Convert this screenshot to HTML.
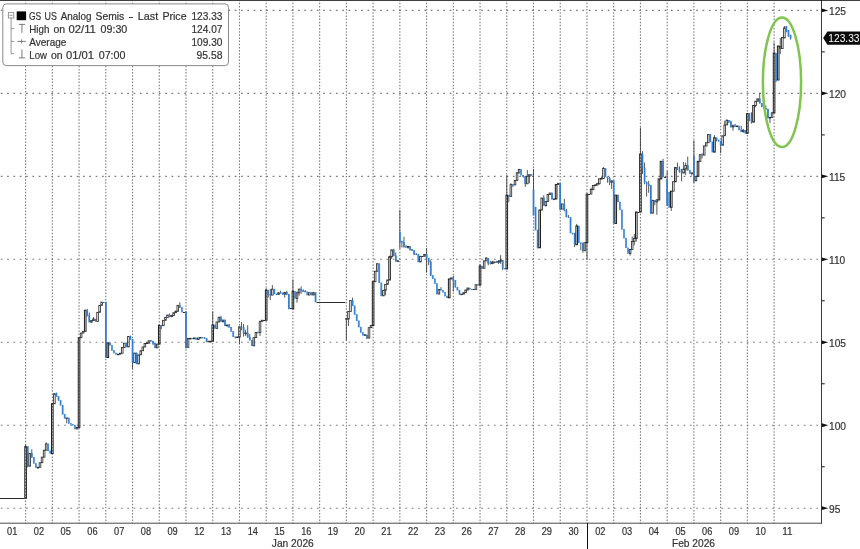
<!DOCTYPE html>
<html><head><meta charset="utf-8"><title>GS US Analog Semis</title>
<style>html,body{margin:0;padding:0;background:#fff;overflow:hidden}svg{display:block}text{font-family:"Liberation Sans",Arial,sans-serif;filter:grayscale(1)}</style></head><body>
<svg width="860" height="549" viewBox="0 0 860 549">
<rect width="860" height="549" fill="#fff"/>
<g stroke="#7a7a7a" stroke-width="1.1" fill="none">
<line x1="0" y1="10.40" x2="819.5" y2="10.40" stroke-dasharray="1.7 4.622" stroke-dashoffset="-0.81"/>
<line x1="0" y1="93.37" x2="819.5" y2="93.37" stroke-dasharray="1.7 4.622" stroke-dashoffset="-0.81"/>
<line x1="0" y1="176.34" x2="819.5" y2="176.34" stroke-dasharray="1.7 4.622" stroke-dashoffset="-0.81"/>
<line x1="0" y1="259.31" x2="819.5" y2="259.31" stroke-dasharray="1.7 4.622" stroke-dashoffset="-0.81"/>
<line x1="0" y1="342.28" x2="819.5" y2="342.28" stroke-dasharray="1.7 4.622" stroke-dashoffset="-0.81"/>
<line x1="0" y1="425.25" x2="819.5" y2="425.25" stroke-dasharray="1.7 4.622" stroke-dashoffset="-0.81"/>
<line x1="0" y1="508.22" x2="819.5" y2="508.22" stroke-dasharray="1.7 4.622" stroke-dashoffset="-0.81"/>
<line x1="25.60" y1="1" x2="25.60" y2="523.2" stroke-dasharray="1.5 1.65" stroke-dashoffset="-1.80"/>
<line x1="52.33" y1="1" x2="52.33" y2="523.2" stroke-dasharray="1.5 1.65" stroke-dashoffset="-1.80"/>
<line x1="79.06" y1="1" x2="79.06" y2="523.2" stroke-dasharray="1.5 1.65" stroke-dashoffset="-1.80"/>
<line x1="105.80" y1="1" x2="105.80" y2="523.2" stroke-dasharray="1.5 1.65" stroke-dashoffset="-1.80"/>
<line x1="132.53" y1="1" x2="132.53" y2="523.2" stroke-dasharray="1.5 1.65" stroke-dashoffset="-1.80"/>
<line x1="159.26" y1="1" x2="159.26" y2="523.2" stroke-dasharray="1.5 1.65" stroke-dashoffset="-1.80"/>
<line x1="185.99" y1="1" x2="185.99" y2="523.2" stroke-dasharray="1.5 1.65" stroke-dashoffset="-1.80"/>
<line x1="212.72" y1="1" x2="212.72" y2="523.2" stroke-dasharray="1.5 1.65" stroke-dashoffset="-1.80"/>
<line x1="239.46" y1="1" x2="239.46" y2="523.2" stroke-dasharray="1.5 1.65" stroke-dashoffset="-1.80"/>
<line x1="266.19" y1="1" x2="266.19" y2="523.2" stroke-dasharray="1.5 1.65" stroke-dashoffset="-1.80"/>
<line x1="292.92" y1="1" x2="292.92" y2="523.2" stroke-dasharray="1.5 1.65" stroke-dashoffset="-1.80"/>
<line x1="319.65" y1="1" x2="319.65" y2="523.2" stroke-dasharray="1.5 1.65" stroke-dashoffset="-1.80"/>
<line x1="346.38" y1="1" x2="346.38" y2="523.2" stroke-dasharray="1.5 1.65" stroke-dashoffset="-1.80"/>
<line x1="373.12" y1="1" x2="373.12" y2="523.2" stroke-dasharray="1.5 1.65" stroke-dashoffset="-1.80"/>
<line x1="399.85" y1="1" x2="399.85" y2="523.2" stroke-dasharray="1.5 1.65" stroke-dashoffset="-1.80"/>
<line x1="426.58" y1="1" x2="426.58" y2="523.2" stroke-dasharray="1.5 1.65" stroke-dashoffset="-1.80"/>
<line x1="453.31" y1="1" x2="453.31" y2="523.2" stroke-dasharray="1.5 1.65" stroke-dashoffset="-1.80"/>
<line x1="480.04" y1="1" x2="480.04" y2="523.2" stroke-dasharray="1.5 1.65" stroke-dashoffset="-1.80"/>
<line x1="506.78" y1="1" x2="506.78" y2="523.2" stroke-dasharray="1.5 1.65" stroke-dashoffset="-1.80"/>
<line x1="533.51" y1="1" x2="533.51" y2="523.2" stroke-dasharray="1.5 1.65" stroke-dashoffset="-1.80"/>
<line x1="560.24" y1="1" x2="560.24" y2="523.2" stroke-dasharray="1.5 1.65" stroke-dashoffset="-1.80"/>
<line x1="586.97" y1="1" x2="586.97" y2="523.2" stroke-dasharray="1.5 1.65" stroke-dashoffset="-1.80"/>
<line x1="613.70" y1="1" x2="613.70" y2="523.2" stroke-dasharray="1.5 1.65" stroke-dashoffset="-1.80"/>
<line x1="640.44" y1="1" x2="640.44" y2="523.2" stroke-dasharray="1.5 1.65" stroke-dashoffset="-1.80"/>
<line x1="667.17" y1="1" x2="667.17" y2="523.2" stroke-dasharray="1.5 1.65" stroke-dashoffset="-1.80"/>
<line x1="693.90" y1="1" x2="693.90" y2="523.2" stroke-dasharray="1.5 1.65" stroke-dashoffset="-1.80"/>
<line x1="720.63" y1="1" x2="720.63" y2="523.2" stroke-dasharray="1.5 1.65" stroke-dashoffset="-1.80"/>
<line x1="747.36" y1="1" x2="747.36" y2="523.2" stroke-dasharray="1.5 1.65" stroke-dashoffset="-1.80"/>
<line x1="774.10" y1="1" x2="774.10" y2="523.2" stroke-dasharray="1.5 1.65" stroke-dashoffset="-1.80"/>
</g>
<g id="candles" stroke-linecap="butt">
<line x1="25.60" y1="444.80" x2="25.60" y2="446.69" stroke="#2e2e2e" stroke-width="0.8"/>
<rect x="24.80" y="446.69" width="1.6" height="51.55" fill="none" stroke="#1c1c1c" stroke-width="1.0"/>
<line x1="27.66" y1="446.69" x2="27.66" y2="467.43" stroke="#2e2e2e" stroke-width="0.8"/>
<rect x="27.11" y="446.69" width="1.1" height="19.55" fill="#2f7fd6" stroke="#2f7fd6" stroke-width="0.55"/>
<rect x="28.91" y="453.56" width="1.6" height="12.68" fill="none" stroke="#2e2e2e" stroke-width="0.85"/>
<line x1="31.77" y1="449.20" x2="31.77" y2="457.40" stroke="#2e2e2e" stroke-width="0.8"/>
<rect x="31.22" y="453.56" width="1.1" height="3.84" fill="#2f7fd6" stroke="#2f7fd6" stroke-width="0.55"/>
<rect x="33.28" y="457.40" width="1.1" height="6.19" fill="#2f7fd6" stroke="#2f7fd6" stroke-width="0.55"/>
<rect x="35.33" y="463.59" width="1.1" height="4.11" fill="#2f7fd6" stroke="#2f7fd6" stroke-width="0.55"/>
<line x1="37.94" y1="467.70" x2="37.94" y2="468.69" stroke="#2e2e2e" stroke-width="0.8"/>
<rect x="37.14" y="467.24" width="1.6" height="0.60" fill="none" stroke="#2e2e2e" stroke-width="0.85"/>
<rect x="39.19" y="462.71" width="1.6" height="4.53" fill="none" stroke="#2e2e2e" stroke-width="0.85"/>
<rect x="41.25" y="457.15" width="1.6" height="5.55" fill="none" stroke="#2e2e2e" stroke-width="0.85"/>
<rect x="43.31" y="450.21" width="1.6" height="6.95" fill="none" stroke="#2e2e2e" stroke-width="0.85"/>
<line x1="46.16" y1="442.29" x2="46.16" y2="443.91" stroke="#2e2e2e" stroke-width="0.8"/>
<rect x="45.36" y="443.91" width="1.6" height="6.30" fill="none" stroke="#2e2e2e" stroke-width="0.85"/>
<rect x="47.67" y="443.91" width="1.1" height="6.91" fill="#2f7fd6" stroke="#2f7fd6" stroke-width="0.55"/>
<rect x="49.73" y="450.82" width="1.1" height="2.78" fill="#2f7fd6" stroke="#2f7fd6" stroke-width="0.55"/>
<rect x="51.53" y="403.69" width="1.6" height="49.91" fill="none" stroke="#1c1c1c" stroke-width="1.0"/>
<rect x="53.59" y="393.67" width="1.6" height="10.02" fill="none" stroke="#2e2e2e" stroke-width="0.85"/>
<line x1="56.44" y1="392.60" x2="56.44" y2="396.44" stroke="#2e2e2e" stroke-width="0.8"/>
<rect x="55.89" y="393.67" width="1.1" height="2.77" fill="#2f7fd6" stroke="#2f7fd6" stroke-width="0.55"/>
<rect x="57.95" y="396.44" width="1.1" height="4.10" fill="#2f7fd6" stroke="#2f7fd6" stroke-width="0.55"/>
<rect x="60.01" y="400.54" width="1.1" height="4.62" fill="#2f7fd6" stroke="#2f7fd6" stroke-width="0.55"/>
<rect x="62.06" y="405.17" width="1.1" height="9.18" fill="#2f7fd6" stroke="#2f7fd6" stroke-width="0.55"/>
<rect x="64.12" y="414.34" width="1.1" height="3.85" fill="#2f7fd6" stroke="#2f7fd6" stroke-width="0.55"/>
<line x1="66.73" y1="418.20" x2="66.73" y2="423.40" stroke="#2e2e2e" stroke-width="0.8"/>
<rect x="65.93" y="417.93" width="1.6" height="0.60" fill="none" stroke="#2e2e2e" stroke-width="0.85"/>
<rect x="68.23" y="417.93" width="1.1" height="5.62" fill="#2f7fd6" stroke="#2f7fd6" stroke-width="0.55"/>
<rect x="70.29" y="423.55" width="1.1" height="0.91" fill="#2f7fd6" stroke="#2f7fd6" stroke-width="0.55"/>
<rect x="72.35" y="424.46" width="1.1" height="0.71" fill="#2f7fd6" stroke="#2f7fd6" stroke-width="0.55"/>
<rect x="74.40" y="425.17" width="1.1" height="3.82" fill="#2f7fd6" stroke="#2f7fd6" stroke-width="0.55"/>
<rect x="76.21" y="427.37" width="1.6" height="1.62" fill="none" stroke="#2e2e2e" stroke-width="0.85"/>
<rect x="78.26" y="337.70" width="1.6" height="89.67" fill="none" stroke="#1c1c1c" stroke-width="1.0"/>
<rect x="80.32" y="333.07" width="1.6" height="4.63" fill="none" stroke="#2e2e2e" stroke-width="0.85"/>
<rect x="82.38" y="331.31" width="1.6" height="1.76" fill="none" stroke="#2e2e2e" stroke-width="0.85"/>
<rect x="84.43" y="310.26" width="1.6" height="21.05" fill="none" stroke="#1c1c1c" stroke-width="1.0"/>
<line x1="87.29" y1="308.86" x2="87.29" y2="316.40" stroke="#2e2e2e" stroke-width="0.8"/>
<rect x="86.74" y="310.26" width="1.1" height="4.92" fill="#2f7fd6" stroke="#2f7fd6" stroke-width="0.55"/>
<line x1="89.35" y1="312.63" x2="89.35" y2="322.14" stroke="#2e2e2e" stroke-width="0.8"/>
<rect x="88.80" y="315.18" width="1.1" height="6.96" fill="#2f7fd6" stroke="#2f7fd6" stroke-width="0.55"/>
<line x1="91.40" y1="322.14" x2="91.40" y2="322.69" stroke="#2e2e2e" stroke-width="0.8"/>
<rect x="90.60" y="320.58" width="1.6" height="1.56" fill="none" stroke="#2e2e2e" stroke-width="0.85"/>
<line x1="93.46" y1="317.03" x2="93.46" y2="319.01" stroke="#2e2e2e" stroke-width="0.8"/>
<rect x="92.66" y="319.01" width="1.6" height="1.57" fill="none" stroke="#2e2e2e" stroke-width="0.85"/>
<rect x="94.96" y="319.01" width="1.1" height="2.42" fill="#2f7fd6" stroke="#2f7fd6" stroke-width="0.55"/>
<rect x="96.77" y="312.33" width="1.6" height="9.10" fill="none" stroke="#2e2e2e" stroke-width="0.85"/>
<rect x="98.83" y="305.35" width="1.6" height="6.97" fill="none" stroke="#2e2e2e" stroke-width="0.85"/>
<rect x="100.88" y="302.14" width="1.6" height="3.21" fill="none" stroke="#2e2e2e" stroke-width="0.85"/>
<rect x="103.19" y="302.14" width="1.1" height="0.60" fill="#2f7fd6" stroke="#2f7fd6" stroke-width="0.55"/>
<line x1="105.80" y1="301.66" x2="105.80" y2="357.51" stroke="#2e2e2e" stroke-width="0.8"/>
<rect x="105.25" y="302.56" width="1.1" height="54.96" fill="#2f7fd6" stroke="#2f7fd6" stroke-width="0.55"/>
<rect x="107.05" y="342.91" width="1.6" height="14.60" fill="none" stroke="#1c1c1c" stroke-width="1.0"/>
<line x1="109.91" y1="342.52" x2="109.91" y2="345.15" stroke="#2e2e2e" stroke-width="0.8"/>
<rect x="109.36" y="342.91" width="1.1" height="2.24" fill="#2f7fd6" stroke="#2f7fd6" stroke-width="0.55"/>
<rect x="111.41" y="345.15" width="1.1" height="5.47" fill="#2f7fd6" stroke="#2f7fd6" stroke-width="0.55"/>
<rect x="113.47" y="350.62" width="1.1" height="2.35" fill="#2f7fd6" stroke="#2f7fd6" stroke-width="0.55"/>
<rect x="115.53" y="352.97" width="1.1" height="1.37" fill="#2f7fd6" stroke="#2f7fd6" stroke-width="0.55"/>
<line x1="118.13" y1="354.34" x2="118.13" y2="355.09" stroke="#2e2e2e" stroke-width="0.8"/>
<rect x="117.33" y="354.16" width="1.6" height="0.60" fill="none" stroke="#2e2e2e" stroke-width="0.85"/>
<rect x="119.39" y="353.20" width="1.6" height="0.95" fill="none" stroke="#2e2e2e" stroke-width="0.85"/>
<rect x="121.45" y="347.51" width="1.6" height="5.70" fill="none" stroke="#2e2e2e" stroke-width="0.85"/>
<rect x="123.50" y="343.18" width="1.6" height="4.33" fill="none" stroke="#2e2e2e" stroke-width="0.85"/>
<line x1="126.36" y1="342.52" x2="126.36" y2="346.92" stroke="#2e2e2e" stroke-width="0.8"/>
<rect x="125.81" y="343.18" width="1.1" height="3.74" fill="#2f7fd6" stroke="#2f7fd6" stroke-width="0.55"/>
<rect x="127.62" y="336.51" width="1.6" height="10.40" fill="none" stroke="#2e2e2e" stroke-width="0.85"/>
<line x1="130.47" y1="335.60" x2="130.47" y2="339.44" stroke="#2e2e2e" stroke-width="0.8"/>
<rect x="129.92" y="336.51" width="1.1" height="2.93" fill="#2f7fd6" stroke="#2f7fd6" stroke-width="0.55"/>
<line x1="132.53" y1="339.44" x2="132.53" y2="369.05" stroke="#2e2e2e" stroke-width="0.8"/>
<rect x="131.98" y="339.44" width="1.1" height="23.25" fill="#2f7fd6" stroke="#2f7fd6" stroke-width="0.55"/>
<rect x="133.78" y="353.05" width="1.6" height="9.65" fill="none" stroke="#2e2e2e" stroke-width="0.85"/>
<line x1="136.64" y1="352.58" x2="136.64" y2="363.89" stroke="#2e2e2e" stroke-width="0.8"/>
<rect x="136.09" y="353.05" width="1.1" height="10.84" fill="#2f7fd6" stroke="#2f7fd6" stroke-width="0.55"/>
<rect x="137.90" y="354.85" width="1.6" height="9.05" fill="none" stroke="#2e2e2e" stroke-width="0.85"/>
<rect x="139.95" y="350.73" width="1.6" height="4.11" fill="none" stroke="#2e2e2e" stroke-width="0.85"/>
<rect x="142.01" y="346.98" width="1.6" height="3.75" fill="none" stroke="#2e2e2e" stroke-width="0.85"/>
<rect x="144.07" y="343.45" width="1.6" height="3.53" fill="none" stroke="#2e2e2e" stroke-width="0.85"/>
<line x1="146.92" y1="341.89" x2="146.92" y2="343.00" stroke="#2e2e2e" stroke-width="0.8"/>
<rect x="146.12" y="343.00" width="1.6" height="0.60" fill="none" stroke="#2e2e2e" stroke-width="0.85"/>
<line x1="148.98" y1="343.00" x2="148.98" y2="343.77" stroke="#2e2e2e" stroke-width="0.8"/>
<rect x="148.18" y="340.71" width="1.6" height="2.29" fill="none" stroke="#2e2e2e" stroke-width="0.85"/>
<line x1="151.03" y1="340.00" x2="151.03" y2="341.06" stroke="#2e2e2e" stroke-width="0.8"/>
<rect x="150.48" y="340.71" width="1.1" height="0.60" fill="#2f7fd6" stroke="#2f7fd6" stroke-width="0.55"/>
<line x1="153.09" y1="341.06" x2="153.09" y2="345.03" stroke="#2e2e2e" stroke-width="0.8"/>
<rect x="152.54" y="341.06" width="1.1" height="2.33" fill="#2f7fd6" stroke="#2f7fd6" stroke-width="0.55"/>
<line x1="155.15" y1="342.52" x2="155.15" y2="348.18" stroke="#2e2e2e" stroke-width="0.8"/>
<rect x="154.60" y="343.39" width="1.1" height="4.44" fill="#2f7fd6" stroke="#2f7fd6" stroke-width="0.55"/>
<rect x="156.40" y="344.08" width="1.6" height="3.76" fill="none" stroke="#2e2e2e" stroke-width="0.85"/>
<line x1="159.26" y1="324.29" x2="159.26" y2="325.56" stroke="#2e2e2e" stroke-width="0.8"/>
<rect x="158.46" y="325.56" width="1.6" height="18.52" fill="none" stroke="#1c1c1c" stroke-width="1.0"/>
<line x1="161.32" y1="325.56" x2="161.32" y2="329.32" stroke="#2e2e2e" stroke-width="0.8"/>
<rect x="160.77" y="325.56" width="1.1" height="0.60" fill="#2f7fd6" stroke="#2f7fd6" stroke-width="0.55"/>
<rect x="162.57" y="320.34" width="1.6" height="5.28" fill="none" stroke="#2e2e2e" stroke-width="0.85"/>
<rect x="164.63" y="317.55" width="1.6" height="2.79" fill="none" stroke="#2e2e2e" stroke-width="0.85"/>
<rect x="166.69" y="315.08" width="1.6" height="2.47" fill="none" stroke="#2e2e2e" stroke-width="0.85"/>
<line x1="169.54" y1="313.60" x2="169.54" y2="317.37" stroke="#2e2e2e" stroke-width="0.8"/>
<rect x="168.99" y="315.08" width="1.1" height="1.60" fill="#2f7fd6" stroke="#2f7fd6" stroke-width="0.55"/>
<line x1="171.60" y1="314.86" x2="171.60" y2="315.50" stroke="#2e2e2e" stroke-width="0.8"/>
<rect x="170.80" y="315.50" width="1.6" height="1.18" fill="none" stroke="#2e2e2e" stroke-width="0.85"/>
<line x1="173.65" y1="315.50" x2="173.65" y2="316.12" stroke="#2e2e2e" stroke-width="0.8"/>
<rect x="172.85" y="312.71" width="1.6" height="2.79" fill="none" stroke="#2e2e2e" stroke-width="0.85"/>
<line x1="175.71" y1="310.46" x2="175.71" y2="311.33" stroke="#2e2e2e" stroke-width="0.8"/>
<rect x="174.91" y="311.33" width="1.6" height="1.38" fill="none" stroke="#2e2e2e" stroke-width="0.85"/>
<line x1="177.77" y1="311.33" x2="177.77" y2="311.72" stroke="#2e2e2e" stroke-width="0.8"/>
<rect x="176.97" y="305.32" width="1.6" height="6.01" fill="none" stroke="#2e2e2e" stroke-width="0.85"/>
<line x1="179.82" y1="302.29" x2="179.82" y2="307.71" stroke="#2e2e2e" stroke-width="0.8"/>
<rect x="179.27" y="305.32" width="1.1" height="2.39" fill="#2f7fd6" stroke="#2f7fd6" stroke-width="0.55"/>
<rect x="181.33" y="307.71" width="1.1" height="4.34" fill="#2f7fd6" stroke="#2f7fd6" stroke-width="0.55"/>
<line x1="185.99" y1="311.72" x2="185.99" y2="348.52" stroke="#2e2e2e" stroke-width="0.8"/>
<rect x="185.44" y="311.72" width="1.1" height="35.67" fill="#2f7fd6" stroke="#2f7fd6" stroke-width="0.55"/>
<rect x="187.25" y="338.38" width="1.6" height="9.01" fill="none" stroke="#2e2e2e" stroke-width="0.85"/>
<line x1="190.10" y1="337.83" x2="190.10" y2="338.37" stroke="#2e2e2e" stroke-width="0.8"/>
<rect x="189.30" y="338.37" width="1.6" height="0.60" fill="none" stroke="#2e2e2e" stroke-width="0.85"/>
<line x1="192.16" y1="338.37" x2="192.16" y2="339.09" stroke="#2e2e2e" stroke-width="0.8"/>
<rect x="191.61" y="338.37" width="1.1" height="0.60" fill="#2f7fd6" stroke="#2f7fd6" stroke-width="0.55"/>
<rect x="193.42" y="337.95" width="1.6" height="0.83" fill="none" stroke="#2e2e2e" stroke-width="0.85"/>
<rect x="195.72" y="337.95" width="1.1" height="1.54" fill="#2f7fd6" stroke="#2f7fd6" stroke-width="0.55"/>
<rect x="197.53" y="337.96" width="1.6" height="1.53" fill="none" stroke="#2e2e2e" stroke-width="0.85"/>
<rect x="199.59" y="337.46" width="1.6" height="0.60" fill="none" stroke="#2e2e2e" stroke-width="0.85"/>
<rect x="201.89" y="337.46" width="1.1" height="0.60" fill="#2f7fd6" stroke="#2f7fd6" stroke-width="0.55"/>
<line x1="204.50" y1="337.20" x2="204.50" y2="338.48" stroke="#2e2e2e" stroke-width="0.8"/>
<rect x="203.95" y="337.76" width="1.1" height="0.72" fill="#2f7fd6" stroke="#2f7fd6" stroke-width="0.55"/>
<line x1="206.56" y1="338.48" x2="206.56" y2="342.23" stroke="#2e2e2e" stroke-width="0.8"/>
<rect x="206.01" y="338.48" width="1.1" height="3.24" fill="#2f7fd6" stroke="#2f7fd6" stroke-width="0.55"/>
<rect x="207.81" y="341.22" width="1.6" height="0.60" fill="none" stroke="#2e2e2e" stroke-width="0.85"/>
<line x1="210.67" y1="341.22" x2="210.67" y2="341.60" stroke="#2e2e2e" stroke-width="0.8"/>
<rect x="209.87" y="341.20" width="1.6" height="0.60" fill="none" stroke="#2e2e2e" stroke-width="0.85"/>
<line x1="212.72" y1="311.43" x2="212.72" y2="324.93" stroke="#2e2e2e" stroke-width="0.8"/>
<rect x="211.92" y="324.93" width="1.6" height="16.27" fill="none" stroke="#1c1c1c" stroke-width="1.0"/>
<rect x="214.23" y="324.93" width="1.1" height="3.48" fill="#2f7fd6" stroke="#2f7fd6" stroke-width="0.55"/>
<rect x="216.04" y="321.96" width="1.6" height="6.44" fill="none" stroke="#2e2e2e" stroke-width="0.85"/>
<rect x="218.09" y="317.19" width="1.6" height="4.77" fill="none" stroke="#2e2e2e" stroke-width="0.85"/>
<line x1="220.95" y1="315.83" x2="220.95" y2="321.47" stroke="#2e2e2e" stroke-width="0.8"/>
<rect x="220.40" y="317.19" width="1.1" height="4.28" fill="#2f7fd6" stroke="#2f7fd6" stroke-width="0.55"/>
<line x1="223.01" y1="321.47" x2="223.01" y2="322.75" stroke="#2e2e2e" stroke-width="0.8"/>
<rect x="222.21" y="320.06" width="1.6" height="1.40" fill="none" stroke="#2e2e2e" stroke-width="0.85"/>
<line x1="225.06" y1="319.60" x2="225.06" y2="325.79" stroke="#2e2e2e" stroke-width="0.8"/>
<rect x="224.51" y="320.06" width="1.1" height="5.73" fill="#2f7fd6" stroke="#2f7fd6" stroke-width="0.55"/>
<line x1="227.12" y1="325.79" x2="227.12" y2="326.52" stroke="#2e2e2e" stroke-width="0.8"/>
<rect x="226.32" y="324.99" width="1.6" height="0.80" fill="none" stroke="#2e2e2e" stroke-width="0.85"/>
<line x1="229.17" y1="324.00" x2="229.17" y2="327.35" stroke="#2e2e2e" stroke-width="0.8"/>
<rect x="228.62" y="324.99" width="1.1" height="2.37" fill="#2f7fd6" stroke="#2f7fd6" stroke-width="0.55"/>
<rect x="230.68" y="327.35" width="1.1" height="4.05" fill="#2f7fd6" stroke="#2f7fd6" stroke-width="0.55"/>
<rect x="232.74" y="331.41" width="1.1" height="5.38" fill="#2f7fd6" stroke="#2f7fd6" stroke-width="0.55"/>
<line x1="235.34" y1="336.79" x2="235.34" y2="338.46" stroke="#2e2e2e" stroke-width="0.8"/>
<rect x="234.79" y="336.79" width="1.1" height="0.62" fill="#2f7fd6" stroke="#2f7fd6" stroke-width="0.55"/>
<line x1="237.40" y1="336.58" x2="237.40" y2="337.05" stroke="#2e2e2e" stroke-width="0.8"/>
<rect x="236.60" y="337.05" width="1.6" height="0.60" fill="none" stroke="#2e2e2e" stroke-width="0.85"/>
<line x1="239.46" y1="337.05" x2="239.46" y2="344.12" stroke="#2e2e2e" stroke-width="0.8"/>
<rect x="238.66" y="326.75" width="1.6" height="10.30" fill="none" stroke="#2e2e2e" stroke-width="0.85"/>
<line x1="241.51" y1="322.12" x2="241.51" y2="330.29" stroke="#2e2e2e" stroke-width="0.8"/>
<rect x="240.96" y="326.75" width="1.1" height="0.60" fill="#2f7fd6" stroke="#2f7fd6" stroke-width="0.55"/>
<line x1="243.57" y1="324.00" x2="243.57" y2="336.58" stroke="#2e2e2e" stroke-width="0.8"/>
<rect x="243.02" y="327.21" width="1.1" height="6.02" fill="#2f7fd6" stroke="#2f7fd6" stroke-width="0.55"/>
<line x1="245.62" y1="329.66" x2="245.62" y2="333.06" stroke="#2e2e2e" stroke-width="0.8"/>
<line x1="245.62" y1="333.23" x2="245.62" y2="335.95" stroke="#2e2e2e" stroke-width="0.8"/>
<rect x="244.82" y="333.06" width="1.6" height="0.60" fill="none" stroke="#2e2e2e" stroke-width="0.85"/>
<line x1="247.68" y1="325.26" x2="247.68" y2="337.46" stroke="#2e2e2e" stroke-width="0.8"/>
<rect x="247.13" y="333.06" width="1.1" height="4.39" fill="#2f7fd6" stroke="#2f7fd6" stroke-width="0.55"/>
<line x1="249.74" y1="334.06" x2="249.74" y2="340.14" stroke="#2e2e2e" stroke-width="0.8"/>
<rect x="249.19" y="337.46" width="1.1" height="2.68" fill="#2f7fd6" stroke="#2f7fd6" stroke-width="0.55"/>
<rect x="251.24" y="340.14" width="1.1" height="5.66" fill="#2f7fd6" stroke="#2f7fd6" stroke-width="0.55"/>
<rect x="253.05" y="337.61" width="1.6" height="8.19" fill="none" stroke="#2e2e2e" stroke-width="0.85"/>
<rect x="255.11" y="332.51" width="1.6" height="5.09" fill="none" stroke="#2e2e2e" stroke-width="0.85"/>
<line x1="257.96" y1="331.55" x2="257.96" y2="332.51" stroke="#2e2e2e" stroke-width="0.8"/>
<rect x="257.41" y="332.51" width="1.1" height="0.60" fill="#2f7fd6" stroke="#2f7fd6" stroke-width="0.55"/>
<line x1="260.02" y1="332.51" x2="260.02" y2="335.95" stroke="#2e2e2e" stroke-width="0.8"/>
<rect x="259.22" y="321.33" width="1.6" height="11.18" fill="none" stroke="#2e2e2e" stroke-width="0.85"/>
<rect x="261.28" y="320.23" width="1.6" height="1.10" fill="none" stroke="#2e2e2e" stroke-width="0.85"/>
<line x1="266.19" y1="288.20" x2="266.19" y2="290.14" stroke="#2e2e2e" stroke-width="0.8"/>
<rect x="265.39" y="290.14" width="1.6" height="30.09" fill="none" stroke="#1c1c1c" stroke-width="1.0"/>
<line x1="268.24" y1="290.14" x2="268.24" y2="297.63" stroke="#2e2e2e" stroke-width="0.8"/>
<rect x="267.69" y="290.14" width="1.1" height="4.19" fill="#2f7fd6" stroke="#2f7fd6" stroke-width="0.55"/>
<line x1="270.30" y1="288.83" x2="270.30" y2="300.14" stroke="#2e2e2e" stroke-width="0.8"/>
<rect x="269.75" y="294.33" width="1.1" height="0.77" fill="#2f7fd6" stroke="#2f7fd6" stroke-width="0.55"/>
<line x1="272.36" y1="285.06" x2="272.36" y2="289.19" stroke="#2e2e2e" stroke-width="0.8"/>
<rect x="271.56" y="289.19" width="1.6" height="5.91" fill="none" stroke="#2e2e2e" stroke-width="0.85"/>
<rect x="273.86" y="289.19" width="1.1" height="4.73" fill="#2f7fd6" stroke="#2f7fd6" stroke-width="0.55"/>
<line x1="276.47" y1="293.91" x2="276.47" y2="295.12" stroke="#2e2e2e" stroke-width="0.8"/>
<rect x="275.92" y="293.91" width="1.1" height="0.63" fill="#2f7fd6" stroke="#2f7fd6" stroke-width="0.55"/>
<rect x="277.73" y="292.70" width="1.6" height="1.84" fill="none" stroke="#2e2e2e" stroke-width="0.85"/>
<line x1="280.58" y1="290.72" x2="280.58" y2="293.31" stroke="#2e2e2e" stroke-width="0.8"/>
<rect x="280.03" y="292.70" width="1.1" height="0.61" fill="#2f7fd6" stroke="#2f7fd6" stroke-width="0.55"/>
<line x1="282.64" y1="292.60" x2="282.64" y2="294.49" stroke="#2e2e2e" stroke-width="0.8"/>
<rect x="282.09" y="293.31" width="1.1" height="0.92" fill="#2f7fd6" stroke="#2f7fd6" stroke-width="0.55"/>
<line x1="284.69" y1="294.23" x2="284.69" y2="297.63" stroke="#2e2e2e" stroke-width="0.8"/>
<rect x="283.89" y="292.52" width="1.6" height="1.71" fill="none" stroke="#2e2e2e" stroke-width="0.85"/>
<line x1="286.75" y1="290.72" x2="286.75" y2="295.12" stroke="#2e2e2e" stroke-width="0.8"/>
<rect x="286.20" y="292.52" width="1.1" height="2.06" fill="#2f7fd6" stroke="#2f7fd6" stroke-width="0.55"/>
<line x1="288.81" y1="293.86" x2="288.81" y2="308.95" stroke="#2e2e2e" stroke-width="0.8"/>
<rect x="288.26" y="294.58" width="1.1" height="14.36" fill="#2f7fd6" stroke="#2f7fd6" stroke-width="0.55"/>
<line x1="292.92" y1="279.40" x2="292.92" y2="291.34" stroke="#2e2e2e" stroke-width="0.8"/>
<rect x="292.12" y="291.34" width="1.6" height="17.60" fill="none" stroke="#1c1c1c" stroke-width="1.0"/>
<rect x="294.43" y="291.34" width="1.1" height="7.22" fill="#2f7fd6" stroke="#2f7fd6" stroke-width="0.55"/>
<line x1="297.03" y1="291.34" x2="297.03" y2="292.85" stroke="#2e2e2e" stroke-width="0.8"/>
<line x1="297.03" y1="298.56" x2="297.03" y2="302.66" stroke="#2e2e2e" stroke-width="0.8"/>
<rect x="296.23" y="292.85" width="1.6" height="5.71" fill="none" stroke="#2e2e2e" stroke-width="0.85"/>
<line x1="299.09" y1="292.85" x2="299.09" y2="295.74" stroke="#2e2e2e" stroke-width="0.8"/>
<rect x="298.29" y="289.06" width="1.6" height="3.79" fill="none" stroke="#2e2e2e" stroke-width="0.85"/>
<line x1="301.15" y1="286.32" x2="301.15" y2="293.86" stroke="#2e2e2e" stroke-width="0.8"/>
<rect x="300.60" y="289.06" width="1.1" height="1.52" fill="#2f7fd6" stroke="#2f7fd6" stroke-width="0.55"/>
<line x1="303.20" y1="289.46" x2="303.20" y2="291.97" stroke="#2e2e2e" stroke-width="0.8"/>
<rect x="302.65" y="290.58" width="1.1" height="0.79" fill="#2f7fd6" stroke="#2f7fd6" stroke-width="0.55"/>
<line x1="305.26" y1="290.09" x2="305.26" y2="291.80" stroke="#2e2e2e" stroke-width="0.8"/>
<rect x="304.71" y="291.37" width="1.1" height="0.60" fill="#2f7fd6" stroke="#2f7fd6" stroke-width="0.55"/>
<rect x="306.76" y="291.80" width="1.1" height="3.23" fill="#2f7fd6" stroke="#2f7fd6" stroke-width="0.55"/>
<rect x="308.57" y="292.72" width="1.6" height="2.30" fill="none" stroke="#2e2e2e" stroke-width="0.85"/>
<rect x="310.88" y="292.72" width="1.1" height="2.28" fill="#2f7fd6" stroke="#2f7fd6" stroke-width="0.55"/>
<line x1="313.48" y1="291.97" x2="313.48" y2="292.67" stroke="#2e2e2e" stroke-width="0.8"/>
<rect x="312.68" y="292.67" width="1.6" height="2.33" fill="none" stroke="#2e2e2e" stroke-width="0.85"/>
<rect x="314.99" y="292.67" width="1.1" height="9.36" fill="#2f7fd6" stroke="#2f7fd6" stroke-width="0.55"/>
<line x1="346.38" y1="319.00" x2="346.38" y2="340.40" stroke="#2e2e2e" stroke-width="0.8"/>
<rect x="345.58" y="318.60" width="1.6" height="0.60" fill="none" stroke="#2e2e2e" stroke-width="0.85"/>
<line x1="348.44" y1="319.00" x2="348.44" y2="326.00" stroke="#2e2e2e" stroke-width="0.8"/>
<rect x="347.64" y="311.50" width="1.6" height="7.50" fill="none" stroke="#2e2e2e" stroke-width="0.85"/>
<rect x="349.70" y="300.50" width="1.6" height="10.96" fill="none" stroke="#2e2e2e" stroke-width="0.85"/>
<line x1="352.55" y1="297.63" x2="352.55" y2="305.82" stroke="#2e2e2e" stroke-width="0.8"/>
<rect x="352.00" y="300.50" width="1.1" height="5.31" fill="#2f7fd6" stroke="#2f7fd6" stroke-width="0.55"/>
<rect x="354.06" y="305.82" width="1.1" height="8.85" fill="#2f7fd6" stroke="#2f7fd6" stroke-width="0.55"/>
<rect x="356.12" y="314.67" width="1.1" height="6.17" fill="#2f7fd6" stroke="#2f7fd6" stroke-width="0.55"/>
<rect x="358.17" y="320.83" width="1.1" height="6.24" fill="#2f7fd6" stroke="#2f7fd6" stroke-width="0.55"/>
<rect x="360.23" y="327.08" width="1.1" height="5.58" fill="#2f7fd6" stroke="#2f7fd6" stroke-width="0.55"/>
<rect x="362.28" y="332.66" width="1.1" height="2.49" fill="#2f7fd6" stroke="#2f7fd6" stroke-width="0.55"/>
<line x1="364.89" y1="334.09" x2="364.89" y2="334.92" stroke="#2e2e2e" stroke-width="0.8"/>
<rect x="364.09" y="334.92" width="1.6" height="0.60" fill="none" stroke="#2e2e2e" stroke-width="0.85"/>
<line x1="366.95" y1="334.92" x2="366.95" y2="339.12" stroke="#2e2e2e" stroke-width="0.8"/>
<rect x="366.40" y="334.92" width="1.1" height="3.18" fill="#2f7fd6" stroke="#2f7fd6" stroke-width="0.55"/>
<rect x="368.20" y="327.64" width="1.6" height="10.46" fill="none" stroke="#2e2e2e" stroke-width="0.85"/>
<rect x="370.26" y="325.53" width="1.6" height="2.11" fill="none" stroke="#2e2e2e" stroke-width="0.85"/>
<rect x="372.32" y="281.64" width="1.6" height="43.90" fill="none" stroke="#1c1c1c" stroke-width="1.0"/>
<rect x="374.37" y="271.28" width="1.6" height="10.36" fill="none" stroke="#2e2e2e" stroke-width="0.85"/>
<line x1="377.23" y1="263.26" x2="377.23" y2="263.75" stroke="#2e2e2e" stroke-width="0.8"/>
<rect x="376.43" y="263.75" width="1.6" height="7.52" fill="none" stroke="#2e2e2e" stroke-width="0.85"/>
<rect x="378.73" y="263.75" width="1.1" height="19.09" fill="#2f7fd6" stroke="#2f7fd6" stroke-width="0.55"/>
<rect x="380.79" y="282.85" width="1.1" height="13.00" fill="#2f7fd6" stroke="#2f7fd6" stroke-width="0.55"/>
<rect x="382.60" y="290.29" width="1.6" height="5.56" fill="none" stroke="#2e2e2e" stroke-width="0.85"/>
<line x1="385.45" y1="290.29" x2="385.45" y2="295.32" stroke="#2e2e2e" stroke-width="0.8"/>
<rect x="384.65" y="284.35" width="1.6" height="5.94" fill="none" stroke="#2e2e2e" stroke-width="0.85"/>
<rect x="386.71" y="279.97" width="1.6" height="4.38" fill="none" stroke="#2e2e2e" stroke-width="0.85"/>
<line x1="389.57" y1="255.72" x2="389.57" y2="256.77" stroke="#2e2e2e" stroke-width="0.8"/>
<rect x="388.77" y="256.77" width="1.6" height="23.20" fill="none" stroke="#1c1c1c" stroke-width="1.0"/>
<line x1="391.62" y1="256.77" x2="391.62" y2="258.86" stroke="#2e2e2e" stroke-width="0.8"/>
<rect x="390.82" y="249.84" width="1.6" height="6.92" fill="none" stroke="#2e2e2e" stroke-width="0.85"/>
<line x1="393.68" y1="248.80" x2="393.68" y2="256.34" stroke="#2e2e2e" stroke-width="0.8"/>
<rect x="393.13" y="249.84" width="1.1" height="6.00" fill="#2f7fd6" stroke="#2f7fd6" stroke-width="0.55"/>
<line x1="395.74" y1="252.57" x2="395.74" y2="261.37" stroke="#2e2e2e" stroke-width="0.8"/>
<rect x="395.19" y="255.84" width="1.1" height="5.33" fill="#2f7fd6" stroke="#2f7fd6" stroke-width="0.55"/>
<line x1="397.79" y1="260.12" x2="397.79" y2="260.91" stroke="#2e2e2e" stroke-width="0.8"/>
<rect x="396.99" y="260.91" width="1.6" height="0.60" fill="none" stroke="#2e2e2e" stroke-width="0.85"/>
<line x1="399.85" y1="209.80" x2="399.85" y2="248.70" stroke="#2e2e2e" stroke-width="0.8"/>
<rect x="399.30" y="232.40" width="1.1" height="10.10" fill="#2f7fd6" stroke="#2f7fd6" stroke-width="0.55"/>
<line x1="401.90" y1="241.00" x2="401.90" y2="247.49" stroke="#2e2e2e" stroke-width="0.8"/>
<rect x="401.35" y="241.00" width="1.1" height="1.16" fill="#2f7fd6" stroke="#2f7fd6" stroke-width="0.55"/>
<line x1="403.96" y1="236.80" x2="403.96" y2="247.49" stroke="#2e2e2e" stroke-width="0.8"/>
<rect x="403.41" y="242.16" width="1.1" height="4.78" fill="#2f7fd6" stroke="#2f7fd6" stroke-width="0.55"/>
<line x1="406.02" y1="244.97" x2="406.02" y2="247.31" stroke="#2e2e2e" stroke-width="0.8"/>
<rect x="405.47" y="246.94" width="1.1" height="0.60" fill="#2f7fd6" stroke="#2f7fd6" stroke-width="0.55"/>
<line x1="408.07" y1="246.23" x2="408.07" y2="246.54" stroke="#2e2e2e" stroke-width="0.8"/>
<line x1="408.07" y1="247.31" x2="408.07" y2="248.75" stroke="#2e2e2e" stroke-width="0.8"/>
<rect x="407.27" y="246.54" width="1.6" height="0.78" fill="none" stroke="#2e2e2e" stroke-width="0.85"/>
<line x1="410.13" y1="246.54" x2="410.13" y2="250.63" stroke="#2e2e2e" stroke-width="0.8"/>
<rect x="409.58" y="246.54" width="1.1" height="3.16" fill="#2f7fd6" stroke="#2f7fd6" stroke-width="0.55"/>
<line x1="412.19" y1="249.37" x2="412.19" y2="250.64" stroke="#2e2e2e" stroke-width="0.8"/>
<rect x="411.64" y="249.70" width="1.1" height="0.94" fill="#2f7fd6" stroke="#2f7fd6" stroke-width="0.55"/>
<line x1="414.24" y1="250.64" x2="414.24" y2="255.03" stroke="#2e2e2e" stroke-width="0.8"/>
<rect x="413.69" y="250.64" width="1.1" height="3.50" fill="#2f7fd6" stroke="#2f7fd6" stroke-width="0.55"/>
<line x1="416.30" y1="253.15" x2="416.30" y2="254.15" stroke="#2e2e2e" stroke-width="0.8"/>
<rect x="415.75" y="254.13" width="1.1" height="0.60" fill="#2f7fd6" stroke="#2f7fd6" stroke-width="0.55"/>
<rect x="417.80" y="254.15" width="1.1" height="7.80" fill="#2f7fd6" stroke="#2f7fd6" stroke-width="0.55"/>
<rect x="419.61" y="256.29" width="1.6" height="5.66" fill="none" stroke="#2e2e2e" stroke-width="0.85"/>
<rect x="423.72" y="254.32" width="1.6" height="1.96" fill="none" stroke="#2e2e2e" stroke-width="0.85"/>
<line x1="426.58" y1="248.17" x2="426.58" y2="272.69" stroke="#2e2e2e" stroke-width="0.8"/>
<rect x="426.03" y="254.32" width="1.1" height="3.76" fill="#2f7fd6" stroke="#2f7fd6" stroke-width="0.55"/>
<line x1="428.64" y1="258.09" x2="428.64" y2="265.14" stroke="#2e2e2e" stroke-width="0.8"/>
<rect x="428.09" y="258.09" width="1.1" height="3.88" fill="#2f7fd6" stroke="#2f7fd6" stroke-width="0.55"/>
<line x1="430.69" y1="260.12" x2="430.69" y2="275.65" stroke="#2e2e2e" stroke-width="0.8"/>
<rect x="430.14" y="261.97" width="1.1" height="13.68" fill="#2f7fd6" stroke="#2f7fd6" stroke-width="0.55"/>
<rect x="432.20" y="275.65" width="1.1" height="3.08" fill="#2f7fd6" stroke="#2f7fd6" stroke-width="0.55"/>
<rect x="434.26" y="278.73" width="1.1" height="4.98" fill="#2f7fd6" stroke="#2f7fd6" stroke-width="0.55"/>
<rect x="436.31" y="283.71" width="1.1" height="10.35" fill="#2f7fd6" stroke="#2f7fd6" stroke-width="0.55"/>
<rect x="438.12" y="289.51" width="1.6" height="4.55" fill="none" stroke="#2e2e2e" stroke-width="0.85"/>
<line x1="440.97" y1="287.15" x2="440.97" y2="290.23" stroke="#2e2e2e" stroke-width="0.8"/>
<rect x="440.42" y="289.51" width="1.1" height="0.71" fill="#2f7fd6" stroke="#2f7fd6" stroke-width="0.55"/>
<rect x="442.48" y="290.23" width="1.1" height="2.09" fill="#2f7fd6" stroke="#2f7fd6" stroke-width="0.55"/>
<rect x="444.54" y="292.31" width="1.1" height="3.74" fill="#2f7fd6" stroke="#2f7fd6" stroke-width="0.55"/>
<rect x="446.59" y="296.05" width="1.1" height="1.75" fill="#2f7fd6" stroke="#2f7fd6" stroke-width="0.55"/>
<rect x="448.40" y="278.97" width="1.6" height="18.82" fill="none" stroke="#1c1c1c" stroke-width="1.0"/>
<rect x="450.46" y="277.92" width="1.6" height="1.05" fill="none" stroke="#2e2e2e" stroke-width="0.85"/>
<line x1="453.31" y1="275.83" x2="453.31" y2="291.58" stroke="#2e2e2e" stroke-width="0.8"/>
<rect x="452.76" y="277.92" width="1.1" height="2.38" fill="#2f7fd6" stroke="#2f7fd6" stroke-width="0.55"/>
<rect x="454.82" y="280.30" width="1.1" height="7.01" fill="#2f7fd6" stroke="#2f7fd6" stroke-width="0.55"/>
<rect x="456.87" y="287.31" width="1.1" height="2.82" fill="#2f7fd6" stroke="#2f7fd6" stroke-width="0.55"/>
<rect x="458.93" y="290.13" width="1.1" height="4.55" fill="#2f7fd6" stroke="#2f7fd6" stroke-width="0.55"/>
<rect x="460.74" y="294.11" width="1.6" height="0.60" fill="none" stroke="#2e2e2e" stroke-width="0.85"/>
<rect x="462.79" y="292.69" width="1.6" height="1.42" fill="none" stroke="#2e2e2e" stroke-width="0.85"/>
<rect x="464.85" y="290.04" width="1.6" height="2.65" fill="none" stroke="#2e2e2e" stroke-width="0.85"/>
<rect x="466.91" y="287.99" width="1.6" height="2.06" fill="none" stroke="#2e2e2e" stroke-width="0.85"/>
<rect x="469.21" y="287.99" width="1.1" height="1.22" fill="#2f7fd6" stroke="#2f7fd6" stroke-width="0.55"/>
<line x1="471.82" y1="289.21" x2="471.82" y2="289.69" stroke="#2e2e2e" stroke-width="0.8"/>
<rect x="471.27" y="289.21" width="1.1" height="0.60" fill="#2f7fd6" stroke="#2f7fd6" stroke-width="0.55"/>
<line x1="475.93" y1="289.38" x2="475.93" y2="289.69" stroke="#2e2e2e" stroke-width="0.8"/>
<rect x="475.13" y="284.66" width="1.6" height="4.72" fill="none" stroke="#2e2e2e" stroke-width="0.85"/>
<rect x="477.44" y="284.66" width="1.1" height="0.60" fill="#2f7fd6" stroke="#2f7fd6" stroke-width="0.55"/>
<line x1="480.04" y1="263.92" x2="480.04" y2="266.16" stroke="#2e2e2e" stroke-width="0.8"/>
<rect x="479.24" y="266.16" width="1.6" height="18.98" fill="none" stroke="#1c1c1c" stroke-width="1.0"/>
<line x1="482.10" y1="266.16" x2="482.10" y2="268.95" stroke="#2e2e2e" stroke-width="0.8"/>
<rect x="481.55" y="266.16" width="1.1" height="2.11" fill="#2f7fd6" stroke="#2f7fd6" stroke-width="0.55"/>
<rect x="483.36" y="260.87" width="1.6" height="7.40" fill="none" stroke="#2e2e2e" stroke-width="0.85"/>
<line x1="486.21" y1="257.00" x2="486.21" y2="258.20" stroke="#2e2e2e" stroke-width="0.8"/>
<rect x="485.41" y="258.20" width="1.6" height="2.67" fill="none" stroke="#2e2e2e" stroke-width="0.85"/>
<line x1="488.27" y1="258.20" x2="488.27" y2="265.17" stroke="#2e2e2e" stroke-width="0.8"/>
<rect x="487.72" y="258.20" width="1.1" height="4.89" fill="#2f7fd6" stroke="#2f7fd6" stroke-width="0.55"/>
<line x1="490.33" y1="260.77" x2="490.33" y2="264.54" stroke="#2e2e2e" stroke-width="0.8"/>
<rect x="489.78" y="263.09" width="1.1" height="0.60" fill="#2f7fd6" stroke="#2f7fd6" stroke-width="0.55"/>
<line x1="492.38" y1="260.77" x2="492.38" y2="261.99" stroke="#2e2e2e" stroke-width="0.8"/>
<rect x="491.58" y="261.99" width="1.6" height="1.69" fill="none" stroke="#2e2e2e" stroke-width="0.85"/>
<line x1="494.44" y1="261.99" x2="494.44" y2="263.29" stroke="#2e2e2e" stroke-width="0.8"/>
<rect x="493.64" y="261.93" width="1.6" height="0.60" fill="none" stroke="#2e2e2e" stroke-width="0.85"/>
<line x1="496.49" y1="260.77" x2="496.49" y2="262.37" stroke="#2e2e2e" stroke-width="0.8"/>
<rect x="495.94" y="261.93" width="1.1" height="0.60" fill="#2f7fd6" stroke="#2f7fd6" stroke-width="0.55"/>
<line x1="498.55" y1="260.14" x2="498.55" y2="261.33" stroke="#2e2e2e" stroke-width="0.8"/>
<line x1="498.55" y1="262.37" x2="498.55" y2="263.92" stroke="#2e2e2e" stroke-width="0.8"/>
<rect x="497.75" y="261.33" width="1.6" height="1.03" fill="none" stroke="#2e2e2e" stroke-width="0.85"/>
<line x1="500.61" y1="255.12" x2="500.61" y2="260.17" stroke="#2e2e2e" stroke-width="0.8"/>
<line x1="500.61" y1="261.33" x2="500.61" y2="263.92" stroke="#2e2e2e" stroke-width="0.8"/>
<rect x="499.81" y="260.17" width="1.6" height="1.16" fill="none" stroke="#2e2e2e" stroke-width="0.85"/>
<line x1="502.66" y1="260.17" x2="502.66" y2="270.20" stroke="#2e2e2e" stroke-width="0.8"/>
<rect x="502.11" y="260.17" width="1.1" height="8.24" fill="#2f7fd6" stroke="#2f7fd6" stroke-width="0.55"/>
<rect x="504.17" y="268.42" width="1.1" height="0.60" fill="#2f7fd6" stroke="#2f7fd6" stroke-width="0.55"/>
<line x1="506.78" y1="175.09" x2="506.78" y2="195.12" stroke="#2e2e2e" stroke-width="0.8"/>
<rect x="505.98" y="195.12" width="1.6" height="73.82" fill="none" stroke="#1c1c1c" stroke-width="1.0"/>
<line x1="508.83" y1="195.12" x2="508.83" y2="202.12" stroke="#2e2e2e" stroke-width="0.8"/>
<rect x="508.28" y="195.12" width="1.1" height="1.37" fill="#2f7fd6" stroke="#2f7fd6" stroke-width="0.55"/>
<line x1="510.89" y1="183.26" x2="510.89" y2="184.62" stroke="#2e2e2e" stroke-width="0.8"/>
<rect x="510.09" y="184.62" width="1.6" height="11.87" fill="none" stroke="#2e2e2e" stroke-width="0.85"/>
<line x1="512.94" y1="184.62" x2="512.94" y2="187.03" stroke="#2e2e2e" stroke-width="0.8"/>
<rect x="512.39" y="184.62" width="1.1" height="0.60" fill="#2f7fd6" stroke="#2f7fd6" stroke-width="0.55"/>
<rect x="514.20" y="180.41" width="1.6" height="4.52" fill="none" stroke="#2e2e2e" stroke-width="0.85"/>
<line x1="517.06" y1="171.94" x2="517.06" y2="172.95" stroke="#2e2e2e" stroke-width="0.8"/>
<rect x="516.26" y="172.95" width="1.6" height="7.46" fill="none" stroke="#2e2e2e" stroke-width="0.85"/>
<line x1="519.11" y1="168.80" x2="519.11" y2="169.41" stroke="#2e2e2e" stroke-width="0.8"/>
<rect x="518.31" y="169.41" width="1.6" height="3.54" fill="none" stroke="#2e2e2e" stroke-width="0.85"/>
<rect x="520.62" y="169.41" width="1.1" height="5.72" fill="#2f7fd6" stroke="#2f7fd6" stroke-width="0.55"/>
<line x1="523.23" y1="175.13" x2="523.23" y2="177.60" stroke="#2e2e2e" stroke-width="0.8"/>
<rect x="522.68" y="175.13" width="1.1" height="1.46" fill="#2f7fd6" stroke="#2f7fd6" stroke-width="0.55"/>
<line x1="525.28" y1="176.34" x2="525.28" y2="187.03" stroke="#2e2e2e" stroke-width="0.8"/>
<rect x="524.73" y="176.59" width="1.1" height="7.19" fill="#2f7fd6" stroke="#2f7fd6" stroke-width="0.55"/>
<line x1="527.34" y1="170.06" x2="527.34" y2="176.28" stroke="#2e2e2e" stroke-width="0.8"/>
<rect x="526.54" y="176.28" width="1.6" height="7.50" fill="none" stroke="#2e2e2e" stroke-width="0.85"/>
<line x1="529.40" y1="176.28" x2="529.40" y2="183.26" stroke="#2e2e2e" stroke-width="0.8"/>
<rect x="528.60" y="174.59" width="1.6" height="1.70" fill="none" stroke="#2e2e2e" stroke-width="0.85"/>
<rect x="530.90" y="174.59" width="1.1" height="0.93" fill="#2f7fd6" stroke="#2f7fd6" stroke-width="0.55"/>
<line x1="533.51" y1="168.80" x2="533.51" y2="215.20" stroke="#2e2e2e" stroke-width="0.8"/>
<rect x="532.96" y="190.00" width="1.1" height="25.20" fill="#2f7fd6" stroke="#2f7fd6" stroke-width="0.55"/>
<rect x="535.01" y="207.14" width="1.1" height="22.88" fill="#2f7fd6" stroke="#2f7fd6" stroke-width="0.55"/>
<line x1="537.62" y1="230.02" x2="537.62" y2="248.40" stroke="#2e2e2e" stroke-width="0.8"/>
<rect x="537.07" y="230.02" width="1.1" height="17.77" fill="#2f7fd6" stroke="#2f7fd6" stroke-width="0.55"/>
<rect x="538.88" y="210.04" width="1.6" height="37.74" fill="none" stroke="#1c1c1c" stroke-width="1.0"/>
<rect x="540.93" y="197.96" width="1.6" height="12.09" fill="none" stroke="#2e2e2e" stroke-width="0.85"/>
<line x1="543.79" y1="195.20" x2="543.79" y2="205.61" stroke="#2e2e2e" stroke-width="0.8"/>
<rect x="543.24" y="197.96" width="1.1" height="7.65" fill="#2f7fd6" stroke="#2f7fd6" stroke-width="0.55"/>
<line x1="545.85" y1="205.61" x2="545.85" y2="206.50" stroke="#2e2e2e" stroke-width="0.8"/>
<rect x="545.05" y="201.51" width="1.6" height="4.10" fill="none" stroke="#2e2e2e" stroke-width="0.85"/>
<rect x="547.10" y="194.44" width="1.6" height="7.07" fill="none" stroke="#2e2e2e" stroke-width="0.85"/>
<rect x="549.16" y="193.02" width="1.6" height="1.42" fill="none" stroke="#2e2e2e" stroke-width="0.85"/>
<line x1="552.01" y1="192.70" x2="552.01" y2="199.14" stroke="#2e2e2e" stroke-width="0.8"/>
<rect x="551.46" y="193.02" width="1.1" height="6.13" fill="#2f7fd6" stroke="#2f7fd6" stroke-width="0.55"/>
<line x1="554.07" y1="199.14" x2="554.07" y2="200.20" stroke="#2e2e2e" stroke-width="0.8"/>
<rect x="553.27" y="198.93" width="1.6" height="0.60" fill="none" stroke="#2e2e2e" stroke-width="0.85"/>
<rect x="555.33" y="184.57" width="1.6" height="14.36" fill="none" stroke="#1c1c1c" stroke-width="1.0"/>
<rect x="557.38" y="183.30" width="1.6" height="1.27" fill="none" stroke="#2e2e2e" stroke-width="0.85"/>
<line x1="560.24" y1="183.30" x2="560.24" y2="210.30" stroke="#2e2e2e" stroke-width="0.8"/>
<rect x="559.69" y="183.30" width="1.1" height="25.83" fill="#2f7fd6" stroke="#2f7fd6" stroke-width="0.55"/>
<rect x="561.50" y="203.93" width="1.6" height="5.19" fill="none" stroke="#2e2e2e" stroke-width="0.85"/>
<line x1="564.35" y1="198.77" x2="564.35" y2="211.34" stroke="#2e2e2e" stroke-width="0.8"/>
<rect x="563.80" y="203.93" width="1.1" height="6.26" fill="#2f7fd6" stroke="#2f7fd6" stroke-width="0.55"/>
<line x1="566.41" y1="208.83" x2="566.41" y2="217.03" stroke="#2e2e2e" stroke-width="0.8"/>
<rect x="565.86" y="210.19" width="1.1" height="6.84" fill="#2f7fd6" stroke="#2f7fd6" stroke-width="0.55"/>
<line x1="568.47" y1="215.12" x2="568.47" y2="217.63" stroke="#2e2e2e" stroke-width="0.8"/>
<rect x="567.92" y="217.03" width="1.1" height="0.60" fill="#2f7fd6" stroke="#2f7fd6" stroke-width="0.55"/>
<rect x="569.97" y="217.42" width="1.1" height="15.61" fill="#2f7fd6" stroke="#2f7fd6" stroke-width="0.55"/>
<line x1="572.58" y1="233.04" x2="572.58" y2="234.60" stroke="#2e2e2e" stroke-width="0.8"/>
<rect x="572.03" y="233.04" width="1.1" height="0.60" fill="#2f7fd6" stroke="#2f7fd6" stroke-width="0.55"/>
<line x1="574.63" y1="232.72" x2="574.63" y2="247.18" stroke="#2e2e2e" stroke-width="0.8"/>
<rect x="574.08" y="233.60" width="1.1" height="11.10" fill="#2f7fd6" stroke="#2f7fd6" stroke-width="0.55"/>
<line x1="576.69" y1="223.92" x2="576.69" y2="225.98" stroke="#2e2e2e" stroke-width="0.8"/>
<rect x="575.89" y="225.98" width="1.6" height="18.72" fill="none" stroke="#1c1c1c" stroke-width="1.0"/>
<rect x="578.20" y="225.98" width="1.1" height="16.79" fill="#2f7fd6" stroke="#2f7fd6" stroke-width="0.55"/>
<line x1="580.80" y1="242.77" x2="580.80" y2="250.32" stroke="#2e2e2e" stroke-width="0.8"/>
<rect x="580.25" y="242.77" width="1.1" height="0.60" fill="#2f7fd6" stroke="#2f7fd6" stroke-width="0.55"/>
<line x1="582.86" y1="242.77" x2="582.86" y2="252.83" stroke="#2e2e2e" stroke-width="0.8"/>
<rect x="582.31" y="242.92" width="1.1" height="7.84" fill="#2f7fd6" stroke="#2f7fd6" stroke-width="0.55"/>
<rect x="584.12" y="242.62" width="1.6" height="8.14" fill="none" stroke="#2e2e2e" stroke-width="0.85"/>
<line x1="586.97" y1="242.62" x2="586.97" y2="260.00" stroke="#2e2e2e" stroke-width="0.8"/>
<rect x="586.17" y="194.00" width="1.6" height="48.61" fill="none" stroke="#1c1c1c" stroke-width="1.0"/>
<line x1="591.08" y1="187.72" x2="591.08" y2="189.47" stroke="#2e2e2e" stroke-width="0.8"/>
<rect x="590.28" y="189.47" width="1.6" height="4.54" fill="none" stroke="#2e2e2e" stroke-width="0.85"/>
<line x1="593.14" y1="189.47" x2="593.14" y2="190.23" stroke="#2e2e2e" stroke-width="0.8"/>
<rect x="592.34" y="185.47" width="1.6" height="3.99" fill="none" stroke="#2e2e2e" stroke-width="0.85"/>
<line x1="595.20" y1="183.95" x2="595.20" y2="185.08" stroke="#2e2e2e" stroke-width="0.8"/>
<rect x="594.40" y="185.08" width="1.6" height="0.60" fill="none" stroke="#2e2e2e" stroke-width="0.85"/>
<line x1="597.25" y1="182.69" x2="597.25" y2="183.71" stroke="#2e2e2e" stroke-width="0.8"/>
<rect x="596.45" y="183.71" width="1.6" height="1.38" fill="none" stroke="#2e2e2e" stroke-width="0.85"/>
<line x1="599.31" y1="183.71" x2="599.31" y2="184.57" stroke="#2e2e2e" stroke-width="0.8"/>
<rect x="598.51" y="178.76" width="1.6" height="4.95" fill="none" stroke="#2e2e2e" stroke-width="0.85"/>
<line x1="601.37" y1="177.03" x2="601.37" y2="178.56" stroke="#2e2e2e" stroke-width="0.8"/>
<rect x="600.57" y="178.56" width="1.6" height="0.60" fill="none" stroke="#2e2e2e" stroke-width="0.85"/>
<line x1="603.42" y1="166.97" x2="603.42" y2="168.53" stroke="#2e2e2e" stroke-width="0.8"/>
<line x1="603.42" y1="178.56" x2="603.42" y2="178.92" stroke="#2e2e2e" stroke-width="0.8"/>
<rect x="602.62" y="168.53" width="1.6" height="10.03" fill="none" stroke="#2e2e2e" stroke-width="0.85"/>
<rect x="604.93" y="168.53" width="1.1" height="8.40" fill="#2f7fd6" stroke="#2f7fd6" stroke-width="0.55"/>
<line x1="607.54" y1="176.93" x2="607.54" y2="182.69" stroke="#2e2e2e" stroke-width="0.8"/>
<rect x="606.99" y="176.93" width="1.1" height="1.69" fill="#2f7fd6" stroke="#2f7fd6" stroke-width="0.55"/>
<line x1="609.59" y1="177.03" x2="609.59" y2="185.20" stroke="#2e2e2e" stroke-width="0.8"/>
<rect x="609.04" y="178.62" width="1.1" height="3.59" fill="#2f7fd6" stroke="#2f7fd6" stroke-width="0.55"/>
<line x1="611.65" y1="182.21" x2="611.65" y2="188.97" stroke="#2e2e2e" stroke-width="0.8"/>
<rect x="610.85" y="180.80" width="1.6" height="1.41" fill="none" stroke="#2e2e2e" stroke-width="0.85"/>
<rect x="613.15" y="180.80" width="1.1" height="42.57" fill="#2f7fd6" stroke="#2f7fd6" stroke-width="0.55"/>
<line x1="615.76" y1="223.38" x2="615.76" y2="224.00" stroke="#2e2e2e" stroke-width="0.8"/>
<rect x="614.96" y="195.17" width="1.6" height="28.21" fill="none" stroke="#1c1c1c" stroke-width="1.0"/>
<line x1="617.82" y1="194.60" x2="617.82" y2="201.92" stroke="#2e2e2e" stroke-width="0.8"/>
<rect x="617.27" y="195.17" width="1.1" height="6.76" fill="#2f7fd6" stroke="#2f7fd6" stroke-width="0.55"/>
<rect x="619.32" y="201.92" width="1.1" height="7.92" fill="#2f7fd6" stroke="#2f7fd6" stroke-width="0.55"/>
<rect x="621.38" y="209.84" width="1.1" height="19.57" fill="#2f7fd6" stroke="#2f7fd6" stroke-width="0.55"/>
<rect x="623.44" y="229.42" width="1.1" height="8.69" fill="#2f7fd6" stroke="#2f7fd6" stroke-width="0.55"/>
<rect x="625.49" y="238.10" width="1.1" height="9.73" fill="#2f7fd6" stroke="#2f7fd6" stroke-width="0.55"/>
<rect x="627.55" y="247.83" width="1.1" height="5.67" fill="#2f7fd6" stroke="#2f7fd6" stroke-width="0.55"/>
<line x1="630.15" y1="253.50" x2="630.15" y2="255.60" stroke="#2e2e2e" stroke-width="0.8"/>
<rect x="629.35" y="249.42" width="1.6" height="4.09" fill="none" stroke="#2e2e2e" stroke-width="0.85"/>
<line x1="632.21" y1="236.50" x2="632.21" y2="241.50" stroke="#2e2e2e" stroke-width="0.8"/>
<rect x="631.41" y="241.50" width="1.6" height="7.92" fill="none" stroke="#2e2e2e" stroke-width="0.85"/>
<line x1="634.27" y1="234.00" x2="634.27" y2="238.35" stroke="#2e2e2e" stroke-width="0.8"/>
<line x1="634.27" y1="241.50" x2="634.27" y2="245.30" stroke="#2e2e2e" stroke-width="0.8"/>
<rect x="633.47" y="238.35" width="1.6" height="3.16" fill="none" stroke="#2e2e2e" stroke-width="0.85"/>
<line x1="636.32" y1="238.35" x2="636.32" y2="241.50" stroke="#2e2e2e" stroke-width="0.8"/>
<rect x="635.52" y="212.00" width="1.6" height="26.35" fill="none" stroke="#1c1c1c" stroke-width="1.0"/>
<line x1="640.44" y1="127.50" x2="640.44" y2="153.96" stroke="#2e2e2e" stroke-width="0.8"/>
<rect x="639.64" y="153.96" width="1.6" height="58.04" fill="none" stroke="#1c1c1c" stroke-width="1.0"/>
<line x1="642.49" y1="151.26" x2="642.49" y2="173.89" stroke="#2e2e2e" stroke-width="0.8"/>
<rect x="641.94" y="153.96" width="1.1" height="14.00" fill="#2f7fd6" stroke="#2f7fd6" stroke-width="0.55"/>
<line x1="644.55" y1="162.57" x2="644.55" y2="183.95" stroke="#2e2e2e" stroke-width="0.8"/>
<rect x="644.00" y="167.96" width="1.1" height="14.33" fill="#2f7fd6" stroke="#2f7fd6" stroke-width="0.55"/>
<line x1="646.60" y1="181.43" x2="646.60" y2="196.52" stroke="#2e2e2e" stroke-width="0.8"/>
<rect x="646.05" y="182.29" width="1.1" height="1.73" fill="#2f7fd6" stroke="#2f7fd6" stroke-width="0.55"/>
<line x1="648.66" y1="180.80" x2="648.66" y2="192.75" stroke="#2e2e2e" stroke-width="0.8"/>
<rect x="648.11" y="184.02" width="1.1" height="1.71" fill="#2f7fd6" stroke="#2f7fd6" stroke-width="0.55"/>
<line x1="650.72" y1="185.20" x2="650.72" y2="214.12" stroke="#2e2e2e" stroke-width="0.8"/>
<rect x="650.17" y="185.72" width="1.1" height="27.48" fill="#2f7fd6" stroke="#2f7fd6" stroke-width="0.55"/>
<rect x="651.97" y="200.29" width="1.6" height="12.91" fill="none" stroke="#2e2e2e" stroke-width="0.85"/>
<line x1="654.83" y1="200.29" x2="654.83" y2="205.32" stroke="#2e2e2e" stroke-width="0.8"/>
<rect x="654.28" y="200.29" width="1.1" height="1.65" fill="#2f7fd6" stroke="#2f7fd6" stroke-width="0.55"/>
<line x1="656.89" y1="199.03" x2="656.89" y2="199.96" stroke="#2e2e2e" stroke-width="0.8"/>
<line x1="656.89" y1="201.94" x2="656.89" y2="214.75" stroke="#2e2e2e" stroke-width="0.8"/>
<rect x="656.09" y="199.96" width="1.6" height="1.98" fill="none" stroke="#2e2e2e" stroke-width="0.85"/>
<rect x="658.14" y="178.90" width="1.6" height="21.06" fill="none" stroke="#1c1c1c" stroke-width="1.0"/>
<rect x="660.20" y="161.37" width="1.6" height="17.53" fill="none" stroke="#1c1c1c" stroke-width="1.0"/>
<line x1="663.06" y1="158.80" x2="663.06" y2="177.03" stroke="#2e2e2e" stroke-width="0.8"/>
<rect x="662.51" y="161.37" width="1.1" height="15.66" fill="#2f7fd6" stroke="#2f7fd6" stroke-width="0.55"/>
<line x1="667.17" y1="171.00" x2="667.17" y2="206.00" stroke="#2e2e2e" stroke-width="0.8"/>
<rect x="666.62" y="179.50" width="1.1" height="25.20" fill="#2f7fd6" stroke="#2f7fd6" stroke-width="0.55"/>
<rect x="668.67" y="192.16" width="1.1" height="15.10" fill="#2f7fd6" stroke="#2f7fd6" stroke-width="0.55"/>
<line x1="671.28" y1="207.27" x2="671.28" y2="210.98" stroke="#2e2e2e" stroke-width="0.8"/>
<rect x="670.48" y="191.21" width="1.6" height="16.06" fill="none" stroke="#1c1c1c" stroke-width="1.0"/>
<rect x="672.54" y="181.71" width="1.6" height="9.49" fill="none" stroke="#2e2e2e" stroke-width="0.85"/>
<rect x="674.59" y="167.56" width="1.6" height="14.16" fill="none" stroke="#1c1c1c" stroke-width="1.0"/>
<line x1="677.45" y1="162.57" x2="677.45" y2="170.12" stroke="#2e2e2e" stroke-width="0.8"/>
<rect x="676.90" y="167.56" width="1.1" height="1.95" fill="#2f7fd6" stroke="#2f7fd6" stroke-width="0.55"/>
<line x1="679.51" y1="166.34" x2="679.51" y2="172.63" stroke="#2e2e2e" stroke-width="0.8"/>
<rect x="678.96" y="169.51" width="1.1" height="2.24" fill="#2f7fd6" stroke="#2f7fd6" stroke-width="0.55"/>
<line x1="681.56" y1="168.86" x2="681.56" y2="181.43" stroke="#2e2e2e" stroke-width="0.8"/>
<rect x="681.01" y="171.74" width="1.1" height="1.30" fill="#2f7fd6" stroke="#2f7fd6" stroke-width="0.55"/>
<line x1="683.62" y1="161.94" x2="683.62" y2="169.14" stroke="#2e2e2e" stroke-width="0.8"/>
<rect x="682.82" y="169.14" width="1.6" height="3.91" fill="none" stroke="#2e2e2e" stroke-width="0.85"/>
<line x1="685.67" y1="162.57" x2="685.67" y2="165.37" stroke="#2e2e2e" stroke-width="0.8"/>
<line x1="685.67" y1="169.14" x2="685.67" y2="175.14" stroke="#2e2e2e" stroke-width="0.8"/>
<rect x="684.87" y="165.37" width="1.6" height="3.76" fill="none" stroke="#2e2e2e" stroke-width="0.85"/>
<line x1="687.73" y1="156.52" x2="687.73" y2="170.35" stroke="#2e2e2e" stroke-width="0.8"/>
<rect x="687.18" y="165.37" width="1.1" height="4.97" fill="#2f7fd6" stroke="#2f7fd6" stroke-width="0.55"/>
<rect x="689.24" y="170.35" width="1.1" height="3.21" fill="#2f7fd6" stroke="#2f7fd6" stroke-width="0.55"/>
<line x1="691.84" y1="173.56" x2="691.84" y2="175.38" stroke="#2e2e2e" stroke-width="0.8"/>
<rect x="691.04" y="172.86" width="1.6" height="0.70" fill="none" stroke="#2e2e2e" stroke-width="0.85"/>
<line x1="693.90" y1="140.30" x2="693.90" y2="183.00" stroke="#2e2e2e" stroke-width="0.8"/>
<rect x="693.35" y="156.00" width="1.1" height="25.20" fill="#2f7fd6" stroke="#2f7fd6" stroke-width="0.55"/>
<line x1="695.96" y1="180.49" x2="695.96" y2="181.66" stroke="#2e2e2e" stroke-width="0.8"/>
<rect x="695.16" y="176.30" width="1.6" height="4.19" fill="none" stroke="#2e2e2e" stroke-width="0.85"/>
<rect x="697.21" y="161.35" width="1.6" height="14.96" fill="none" stroke="#1c1c1c" stroke-width="1.0"/>
<rect x="699.27" y="154.68" width="1.6" height="6.67" fill="none" stroke="#2e2e2e" stroke-width="0.85"/>
<line x1="702.13" y1="153.37" x2="702.13" y2="158.40" stroke="#2e2e2e" stroke-width="0.8"/>
<rect x="701.58" y="154.68" width="1.1" height="0.60" fill="#2f7fd6" stroke="#2f7fd6" stroke-width="0.55"/>
<rect x="703.38" y="145.93" width="1.6" height="9.21" fill="none" stroke="#2e2e2e" stroke-width="0.85"/>
<rect x="705.44" y="142.74" width="1.6" height="3.19" fill="none" stroke="#2e2e2e" stroke-width="0.85"/>
<rect x="707.49" y="134.50" width="1.6" height="8.24" fill="none" stroke="#2e2e2e" stroke-width="0.85"/>
<line x1="710.35" y1="133.89" x2="710.35" y2="141.85" stroke="#2e2e2e" stroke-width="0.8"/>
<rect x="709.80" y="134.50" width="1.1" height="7.35" fill="#2f7fd6" stroke="#2f7fd6" stroke-width="0.55"/>
<rect x="711.86" y="141.85" width="1.1" height="10.24" fill="#2f7fd6" stroke="#2f7fd6" stroke-width="0.55"/>
<line x1="714.46" y1="135.14" x2="714.46" y2="137.79" stroke="#2e2e2e" stroke-width="0.8"/>
<rect x="713.66" y="137.79" width="1.6" height="14.30" fill="none" stroke="#1c1c1c" stroke-width="1.0"/>
<line x1="716.52" y1="137.79" x2="716.52" y2="141.43" stroke="#2e2e2e" stroke-width="0.8"/>
<rect x="715.97" y="137.79" width="1.1" height="2.15" fill="#2f7fd6" stroke="#2f7fd6" stroke-width="0.55"/>
<line x1="718.58" y1="139.94" x2="718.58" y2="141.43" stroke="#2e2e2e" stroke-width="0.8"/>
<rect x="718.03" y="139.94" width="1.1" height="1.17" fill="#2f7fd6" stroke="#2f7fd6" stroke-width="0.55"/>
<line x1="720.63" y1="140.80" x2="720.63" y2="153.37" stroke="#2e2e2e" stroke-width="0.8"/>
<rect x="720.08" y="141.11" width="1.1" height="4.16" fill="#2f7fd6" stroke="#2f7fd6" stroke-width="0.55"/>
<rect x="721.89" y="135.77" width="1.6" height="9.50" fill="none" stroke="#2e2e2e" stroke-width="0.85"/>
<line x1="724.74" y1="120.69" x2="724.74" y2="124.92" stroke="#2e2e2e" stroke-width="0.8"/>
<rect x="723.94" y="124.92" width="1.6" height="10.85" fill="none" stroke="#2e2e2e" stroke-width="0.85"/>
<line x1="726.80" y1="119.43" x2="726.80" y2="120.24" stroke="#2e2e2e" stroke-width="0.8"/>
<rect x="726.00" y="120.24" width="1.6" height="4.67" fill="none" stroke="#2e2e2e" stroke-width="0.85"/>
<line x1="728.86" y1="120.24" x2="728.86" y2="123.20" stroke="#2e2e2e" stroke-width="0.8"/>
<rect x="728.31" y="120.24" width="1.1" height="1.54" fill="#2f7fd6" stroke="#2f7fd6" stroke-width="0.55"/>
<line x1="730.91" y1="120.69" x2="730.91" y2="127.60" stroke="#2e2e2e" stroke-width="0.8"/>
<rect x="730.36" y="121.79" width="1.1" height="5.11" fill="#2f7fd6" stroke="#2f7fd6" stroke-width="0.55"/>
<line x1="732.97" y1="124.46" x2="732.97" y2="125.79" stroke="#2e2e2e" stroke-width="0.8"/>
<line x1="732.97" y1="126.90" x2="732.97" y2="130.74" stroke="#2e2e2e" stroke-width="0.8"/>
<rect x="732.17" y="125.79" width="1.6" height="1.11" fill="none" stroke="#2e2e2e" stroke-width="0.85"/>
<line x1="735.03" y1="123.83" x2="735.03" y2="126.97" stroke="#2e2e2e" stroke-width="0.8"/>
<rect x="734.48" y="125.79" width="1.1" height="0.87" fill="#2f7fd6" stroke="#2f7fd6" stroke-width="0.55"/>
<rect x="736.28" y="125.98" width="1.6" height="0.68" fill="none" stroke="#2e2e2e" stroke-width="0.85"/>
<rect x="738.59" y="125.98" width="1.1" height="3.98" fill="#2f7fd6" stroke="#2f7fd6" stroke-width="0.55"/>
<line x1="741.20" y1="125.72" x2="741.20" y2="131.65" stroke="#2e2e2e" stroke-width="0.8"/>
<rect x="740.65" y="129.96" width="1.1" height="1.69" fill="#2f7fd6" stroke="#2f7fd6" stroke-width="0.55"/>
<line x1="743.25" y1="128.86" x2="743.25" y2="130.34" stroke="#2e2e2e" stroke-width="0.8"/>
<line x1="743.25" y1="131.65" x2="743.25" y2="132.63" stroke="#2e2e2e" stroke-width="0.8"/>
<rect x="742.45" y="130.34" width="1.6" height="1.30" fill="none" stroke="#2e2e2e" stroke-width="0.85"/>
<rect x="744.76" y="130.34" width="1.1" height="2.92" fill="#2f7fd6" stroke="#2f7fd6" stroke-width="0.55"/>
<rect x="746.56" y="113.62" width="1.6" height="19.64" fill="none" stroke="#1c1c1c" stroke-width="1.0"/>
<line x1="749.42" y1="112.92" x2="749.42" y2="121.09" stroke="#2e2e2e" stroke-width="0.8"/>
<rect x="748.87" y="113.62" width="1.1" height="5.14" fill="#2f7fd6" stroke="#2f7fd6" stroke-width="0.55"/>
<line x1="751.48" y1="112.29" x2="751.48" y2="123.60" stroke="#2e2e2e" stroke-width="0.8"/>
<rect x="750.93" y="118.76" width="1.1" height="3.33" fill="#2f7fd6" stroke="#2f7fd6" stroke-width="0.55"/>
<rect x="752.73" y="105.44" width="1.6" height="16.65" fill="none" stroke="#1c1c1c" stroke-width="1.0"/>
<line x1="755.59" y1="105.44" x2="755.59" y2="107.26" stroke="#2e2e2e" stroke-width="0.8"/>
<rect x="754.79" y="101.23" width="1.6" height="4.21" fill="none" stroke="#2e2e2e" stroke-width="0.85"/>
<rect x="756.85" y="98.77" width="1.6" height="2.46" fill="none" stroke="#2e2e2e" stroke-width="0.85"/>
<line x1="759.70" y1="92.80" x2="759.70" y2="103.19" stroke="#2e2e2e" stroke-width="0.8"/>
<rect x="759.15" y="98.77" width="1.1" height="4.42" fill="#2f7fd6" stroke="#2f7fd6" stroke-width="0.55"/>
<line x1="761.76" y1="103.19" x2="761.76" y2="107.26" stroke="#2e2e2e" stroke-width="0.8"/>
<rect x="761.21" y="103.19" width="1.1" height="3.37" fill="#2f7fd6" stroke="#2f7fd6" stroke-width="0.55"/>
<line x1="763.81" y1="104.75" x2="763.81" y2="108.19" stroke="#2e2e2e" stroke-width="0.8"/>
<rect x="763.26" y="106.56" width="1.1" height="1.63" fill="#2f7fd6" stroke="#2f7fd6" stroke-width="0.55"/>
<line x1="765.87" y1="105.37" x2="765.87" y2="109.49" stroke="#2e2e2e" stroke-width="0.8"/>
<rect x="765.32" y="108.19" width="1.1" height="1.30" fill="#2f7fd6" stroke="#2f7fd6" stroke-width="0.55"/>
<line x1="767.93" y1="108.52" x2="767.93" y2="118.10" stroke="#2e2e2e" stroke-width="0.8"/>
<rect x="767.38" y="109.49" width="1.1" height="8.61" fill="#2f7fd6" stroke="#2f7fd6" stroke-width="0.55"/>
<line x1="769.98" y1="118.10" x2="769.98" y2="122.98" stroke="#2e2e2e" stroke-width="0.8"/>
<rect x="769.18" y="117.36" width="1.6" height="0.74" fill="none" stroke="#2e2e2e" stroke-width="0.85"/>
<line x1="772.04" y1="112.29" x2="772.04" y2="112.82" stroke="#2e2e2e" stroke-width="0.8"/>
<rect x="771.24" y="112.82" width="1.6" height="4.54" fill="none" stroke="#2e2e2e" stroke-width="0.85"/>
<line x1="774.10" y1="42.50" x2="774.10" y2="53.10" stroke="#2e2e2e" stroke-width="0.8"/>
<rect x="773.30" y="53.10" width="1.6" height="59.70" fill="none" stroke="#1c1c1c" stroke-width="1.0"/>
<rect x="775.60" y="53.10" width="1.1" height="28.40" fill="#2f7fd6" stroke="#2f7fd6" stroke-width="0.55"/>
<rect x="777.41" y="46.00" width="1.6" height="34.00" fill="none" stroke="#1c1c1c" stroke-width="1.0"/>
<line x1="780.26" y1="38.00" x2="780.26" y2="46.50" stroke="#2e2e2e" stroke-width="0.8"/>
<line x1="780.26" y1="48.00" x2="780.26" y2="54.00" stroke="#2e2e2e" stroke-width="0.8"/>
<rect x="779.46" y="46.50" width="1.6" height="1.50" fill="none" stroke="#2e2e2e" stroke-width="0.85"/>
<rect x="781.52" y="37.50" width="1.6" height="11.10" fill="none" stroke="#2e2e2e" stroke-width="0.85"/>
<line x1="784.38" y1="26.00" x2="784.38" y2="28.00" stroke="#2e2e2e" stroke-width="0.8"/>
<rect x="783.58" y="28.00" width="1.6" height="10.00" fill="none" stroke="#2e2e2e" stroke-width="0.85"/>
<line x1="786.43" y1="26.00" x2="786.43" y2="32.00" stroke="#2e2e2e" stroke-width="0.8"/>
<rect x="785.88" y="26.50" width="1.1" height="5.50" fill="#2f7fd6" stroke="#2f7fd6" stroke-width="0.55"/>
<line x1="788.49" y1="30.00" x2="788.49" y2="36.50" stroke="#2e2e2e" stroke-width="0.8"/>
<rect x="787.94" y="30.50" width="1.1" height="6.00" fill="#2f7fd6" stroke="#2f7fd6" stroke-width="0.55"/>
<line x1="790.55" y1="35.00" x2="790.55" y2="39.60" stroke="#2e2e2e" stroke-width="0.8"/>
<rect x="790.00" y="35.00" width="1.1" height="3.60" fill="#2f7fd6" stroke="#2f7fd6" stroke-width="0.55"/>
<line x1="0.00" y1="498.50" x2="24.57" y2="498.50" stroke="#2a2a2a" stroke-width="1"/>
<line x1="182.91" y1="312.50" x2="184.96" y2="312.50" stroke="#2a2a2a" stroke-width="1"/>
<line x1="263.10" y1="320.50" x2="265.16" y2="320.50" stroke="#2a2a2a" stroke-width="1"/>
<line x1="289.84" y1="308.50" x2="291.89" y2="308.50" stroke="#2a2a2a" stroke-width="1"/>
<line x1="316.57" y1="302.50" x2="345.36" y2="302.50" stroke="#2a2a2a" stroke-width="1"/>
<line x1="421.44" y1="256.50" x2="423.50" y2="256.50" stroke="#2a2a2a" stroke-width="1"/>
<line x1="472.85" y1="289.50" x2="474.90" y2="289.50" stroke="#2a2a2a" stroke-width="1"/>
<line x1="588.00" y1="194.50" x2="590.06" y2="194.50" stroke="#2a2a2a" stroke-width="1"/>
<line x1="637.35" y1="212.50" x2="639.41" y2="212.50" stroke="#2a2a2a" stroke-width="1"/>
<line x1="664.08" y1="177.50" x2="666.14" y2="177.50" stroke="#2a2a2a" stroke-width="1"/>
</g>
<ellipse cx="782" cy="82.35" rx="19.1" ry="64.75" fill="none" stroke="#80c550" stroke-width="2.5"/>
<line x1="0" y1="523.2" x2="822.0" y2="523.2" stroke="#4a4a4a" stroke-width="1"/>
<line x1="821.5" y1="0" x2="821.5" y2="523.7" stroke="#3a3a3a" stroke-width="1"/>
<line x1="0" y1="0.4" x2="860" y2="0.4" stroke="#111" stroke-width="0.9"/>
<line x1="587.5" y1="523.2" x2="587.5" y2="549" stroke="#111" stroke-width="1"/>
<path d="M821.8 8.50 L828.3 10.40 L821.8 12.30 Z" fill="#111"/>
<text x="829.0" y="14.80" font-size="10.2" fill="#333" stroke="#333" stroke-width="0.2">125</text>
<path d="M821.8 91.47 L828.3 93.37 L821.8 95.27 Z" fill="#111"/>
<text x="829.0" y="97.77" font-size="10.2" fill="#333" stroke="#333" stroke-width="0.2">120</text>
<path d="M821.8 174.44 L828.3 176.34 L821.8 178.24 Z" fill="#111"/>
<text x="829.0" y="180.74" font-size="10.2" fill="#333" stroke="#333" stroke-width="0.2">115</text>
<path d="M821.8 257.41 L828.3 259.31 L821.8 261.21 Z" fill="#111"/>
<text x="829.0" y="263.71" font-size="10.2" fill="#333" stroke="#333" stroke-width="0.2">110</text>
<path d="M821.8 340.38 L828.3 342.28 L821.8 344.18 Z" fill="#111"/>
<text x="829.0" y="346.68" font-size="10.2" fill="#333" stroke="#333" stroke-width="0.2">105</text>
<path d="M821.8 423.35 L828.3 425.25 L821.8 427.15 Z" fill="#111"/>
<text x="829.0" y="429.65" font-size="10.2" fill="#333" stroke="#333" stroke-width="0.2">100</text>
<path d="M821.8 506.32 L828.3 508.22 L821.8 510.12 Z" fill="#111"/>
<text x="829.0" y="512.62" font-size="10.2" fill="#333" stroke="#333" stroke-width="0.2">95</text>
<line x1="821.5" y1="51.88" x2="824.7" y2="51.88" stroke="#222" stroke-width="1.1"/>
<line x1="821.5" y1="134.86" x2="824.7" y2="134.86" stroke="#222" stroke-width="1.1"/>
<line x1="821.5" y1="217.83" x2="824.7" y2="217.83" stroke="#222" stroke-width="1.1"/>
<line x1="821.5" y1="300.80" x2="824.7" y2="300.80" stroke="#222" stroke-width="1.1"/>
<line x1="821.5" y1="383.76" x2="824.7" y2="383.76" stroke="#222" stroke-width="1.1"/>
<line x1="821.5" y1="466.74" x2="824.7" y2="466.74" stroke="#222" stroke-width="1.1"/>
<text x="12.23" y="534.8" font-size="10.2" fill="#333" stroke="#333" stroke-width="0.2" text-anchor="middle" textLength="10.3" lengthAdjust="spacingAndGlyphs">01</text>
<text x="38.97" y="534.8" font-size="10.2" fill="#333" stroke="#333" stroke-width="0.2" text-anchor="middle" textLength="10.3" lengthAdjust="spacingAndGlyphs">02</text>
<text x="65.70" y="534.8" font-size="10.2" fill="#333" stroke="#333" stroke-width="0.2" text-anchor="middle" textLength="10.3" lengthAdjust="spacingAndGlyphs">05</text>
<text x="92.43" y="534.8" font-size="10.2" fill="#333" stroke="#333" stroke-width="0.2" text-anchor="middle" textLength="10.3" lengthAdjust="spacingAndGlyphs">06</text>
<text x="119.16" y="534.8" font-size="10.2" fill="#333" stroke="#333" stroke-width="0.2" text-anchor="middle" textLength="10.3" lengthAdjust="spacingAndGlyphs">07</text>
<text x="145.89" y="534.8" font-size="10.2" fill="#333" stroke="#333" stroke-width="0.2" text-anchor="middle" textLength="10.3" lengthAdjust="spacingAndGlyphs">08</text>
<text x="172.63" y="534.8" font-size="10.2" fill="#333" stroke="#333" stroke-width="0.2" text-anchor="middle" textLength="10.3" lengthAdjust="spacingAndGlyphs">09</text>
<text x="199.36" y="534.8" font-size="10.2" fill="#333" stroke="#333" stroke-width="0.2" text-anchor="middle" textLength="10.3" lengthAdjust="spacingAndGlyphs">12</text>
<text x="226.09" y="534.8" font-size="10.2" fill="#333" stroke="#333" stroke-width="0.2" text-anchor="middle" textLength="10.3" lengthAdjust="spacingAndGlyphs">13</text>
<text x="252.82" y="534.8" font-size="10.2" fill="#333" stroke="#333" stroke-width="0.2" text-anchor="middle" textLength="10.3" lengthAdjust="spacingAndGlyphs">14</text>
<text x="279.55" y="534.8" font-size="10.2" fill="#333" stroke="#333" stroke-width="0.2" text-anchor="middle" textLength="10.3" lengthAdjust="spacingAndGlyphs">15</text>
<text x="306.29" y="534.8" font-size="10.2" fill="#333" stroke="#333" stroke-width="0.2" text-anchor="middle" textLength="10.3" lengthAdjust="spacingAndGlyphs">16</text>
<text x="333.02" y="534.8" font-size="10.2" fill="#333" stroke="#333" stroke-width="0.2" text-anchor="middle" textLength="10.3" lengthAdjust="spacingAndGlyphs">19</text>
<text x="359.75" y="534.8" font-size="10.2" fill="#333" stroke="#333" stroke-width="0.2" text-anchor="middle" textLength="10.3" lengthAdjust="spacingAndGlyphs">20</text>
<text x="386.48" y="534.8" font-size="10.2" fill="#333" stroke="#333" stroke-width="0.2" text-anchor="middle" textLength="10.3" lengthAdjust="spacingAndGlyphs">21</text>
<text x="413.21" y="534.8" font-size="10.2" fill="#333" stroke="#333" stroke-width="0.2" text-anchor="middle" textLength="10.3" lengthAdjust="spacingAndGlyphs">22</text>
<text x="439.95" y="534.8" font-size="10.2" fill="#333" stroke="#333" stroke-width="0.2" text-anchor="middle" textLength="10.3" lengthAdjust="spacingAndGlyphs">23</text>
<text x="466.68" y="534.8" font-size="10.2" fill="#333" stroke="#333" stroke-width="0.2" text-anchor="middle" textLength="10.3" lengthAdjust="spacingAndGlyphs">26</text>
<text x="493.41" y="534.8" font-size="10.2" fill="#333" stroke="#333" stroke-width="0.2" text-anchor="middle" textLength="10.3" lengthAdjust="spacingAndGlyphs">27</text>
<text x="520.14" y="534.8" font-size="10.2" fill="#333" stroke="#333" stroke-width="0.2" text-anchor="middle" textLength="10.3" lengthAdjust="spacingAndGlyphs">28</text>
<text x="546.87" y="534.8" font-size="10.2" fill="#333" stroke="#333" stroke-width="0.2" text-anchor="middle" textLength="10.3" lengthAdjust="spacingAndGlyphs">29</text>
<text x="573.61" y="534.8" font-size="10.2" fill="#333" stroke="#333" stroke-width="0.2" text-anchor="middle" textLength="10.3" lengthAdjust="spacingAndGlyphs">30</text>
<text x="600.34" y="534.8" font-size="10.2" fill="#333" stroke="#333" stroke-width="0.2" text-anchor="middle" textLength="10.3" lengthAdjust="spacingAndGlyphs">02</text>
<text x="627.07" y="534.8" font-size="10.2" fill="#333" stroke="#333" stroke-width="0.2" text-anchor="middle" textLength="10.3" lengthAdjust="spacingAndGlyphs">03</text>
<text x="653.80" y="534.8" font-size="10.2" fill="#333" stroke="#333" stroke-width="0.2" text-anchor="middle" textLength="10.3" lengthAdjust="spacingAndGlyphs">04</text>
<text x="680.53" y="534.8" font-size="10.2" fill="#333" stroke="#333" stroke-width="0.2" text-anchor="middle" textLength="10.3" lengthAdjust="spacingAndGlyphs">05</text>
<text x="707.27" y="534.8" font-size="10.2" fill="#333" stroke="#333" stroke-width="0.2" text-anchor="middle" textLength="10.3" lengthAdjust="spacingAndGlyphs">06</text>
<text x="734.00" y="534.8" font-size="10.2" fill="#333" stroke="#333" stroke-width="0.2" text-anchor="middle" textLength="10.3" lengthAdjust="spacingAndGlyphs">09</text>
<text x="760.73" y="534.8" font-size="10.2" fill="#333" stroke="#333" stroke-width="0.2" text-anchor="middle" textLength="10.3" lengthAdjust="spacingAndGlyphs">10</text>
<text x="787.46" y="534.8" font-size="10.2" fill="#333" stroke="#333" stroke-width="0.2" text-anchor="middle" textLength="10.3" lengthAdjust="spacingAndGlyphs">11</text>
<text x="292.8" y="547.3" font-size="10.2" fill="#333" stroke="#333" stroke-width="0.2" text-anchor="middle">Jan 2026</text>
<text x="693.5" y="547.3" font-size="10.2" fill="#333" stroke="#333" stroke-width="0.2" text-anchor="middle">Feb 2026</text>
<path d="M823.2 38.11 L827.4 31.56 L860 31.56 L860 44.66 L827.4 44.66 Z" fill="#0a0a0a"/>
<text x="828.3" y="42.11" font-size="10.6" fill="#fff" textLength="31.2" lengthAdjust="spacingAndGlyphs">123.33</text>
<rect x="2.8" y="3.9" width="225.7" height="61.7" rx="3.5" ry="3.5" fill="#fff" stroke="#8a8a8a" stroke-width="1"/>
<g stroke="#8a8a8a" stroke-width="0.9" fill="none">
<rect x="8.4" y="12.6" width="5.4" height="5.4" fill="#fff"/>
<line x1="9.6" y1="15.3" x2="12.6" y2="15.3"/>
<path d="M11.1 18 V53.7 H14.2 M11.1 28.6 H14.2 M11.1 41.4 H14.2"/>
</g>
<rect x="16.7" y="11.4" width="9.4" height="8.8" fill="#000"/>
<g stroke="#7a7a7a" stroke-width="1" fill="none">
<path d="M18.8 24.4 H25.1 M21.95 24.4 V32.8"/>
<path d="M17.4 41.4 H25.8 M21.6 39.4 V43.4"/>
<path d="M21.95 49.5 V57.9 M18.8 57.9 H25.1"/>
</g>
<text x="28.9" y="20.1" font-size="10.3" fill="#333" stroke="#333" stroke-width="0.2" textLength="12.3" lengthAdjust="spacingAndGlyphs">GS</text>
<text x="44.6" y="20.1" font-size="10.3" fill="#333" stroke="#333" stroke-width="0.2" textLength="12.3" lengthAdjust="spacingAndGlyphs">US</text>
<text x="60.7" y="20.1" font-size="10.3" fill="#333" stroke="#333" stroke-width="0.2" textLength="30.8" lengthAdjust="spacingAndGlyphs">Analog</text>
<text x="95.5" y="20.1" font-size="10.3" fill="#333" stroke="#333" stroke-width="0.2" textLength="28.7" lengthAdjust="spacingAndGlyphs">Semis</text>
<text x="128.6" y="20.1" font-size="10.3" fill="#333" stroke="#333" stroke-width="0.2" textLength="5.0" lengthAdjust="spacingAndGlyphs">-</text>
<text x="137.8" y="20.1" font-size="10.3" fill="#333" stroke="#333" stroke-width="0.2" textLength="20.5" lengthAdjust="spacingAndGlyphs">Last</text>
<text x="162.4" y="20.1" font-size="10.3" fill="#333" stroke="#333" stroke-width="0.2" textLength="24.2" lengthAdjust="spacingAndGlyphs">Price</text>
<text x="191.5" y="20.1" font-size="10.3" fill="#333" stroke="#333" stroke-width="0.2" textLength="30.9" lengthAdjust="spacingAndGlyphs">123.33</text>
<text x="29.3" y="32.9" font-size="10.3" fill="#333" stroke="#333" stroke-width="0.2" textLength="20.1" lengthAdjust="spacingAndGlyphs">High</text>
<text x="53.4" y="32.9" font-size="10.3" fill="#333" stroke="#333" stroke-width="0.2" textLength="11.7" lengthAdjust="spacingAndGlyphs">on</text>
<text x="68.5" y="32.9" font-size="10.3" fill="#333" stroke="#333" stroke-width="0.2" textLength="27.4" lengthAdjust="spacingAndGlyphs">02/11</text>
<text x="100.6" y="32.9" font-size="10.3" fill="#333" stroke="#333" stroke-width="0.2" textLength="26.7" lengthAdjust="spacingAndGlyphs">09:30</text>
<text x="191.5" y="32.9" font-size="10.3" fill="#333" stroke="#333" stroke-width="0.2" textLength="30.9" lengthAdjust="spacingAndGlyphs">124.07</text>
<text x="29.3" y="45.7" font-size="10.3" fill="#333" stroke="#333" stroke-width="0.2" textLength="37.1" lengthAdjust="spacingAndGlyphs">Average</text>
<text x="191.5" y="45.7" font-size="10.3" fill="#333" stroke="#333" stroke-width="0.2" textLength="30.9" lengthAdjust="spacingAndGlyphs">109.30</text>
<text x="29.3" y="58.7" font-size="10.3" fill="#333" stroke="#333" stroke-width="0.2" textLength="17.6" lengthAdjust="spacingAndGlyphs">Low</text>
<text x="50.9" y="58.7" font-size="10.3" fill="#333" stroke="#333" stroke-width="0.2" textLength="11.7" lengthAdjust="spacingAndGlyphs">on</text>
<text x="66.0" y="58.7" font-size="10.3" fill="#333" stroke="#333" stroke-width="0.2" textLength="28.0" lengthAdjust="spacingAndGlyphs">01/01</text>
<text x="98.7" y="58.7" font-size="10.3" fill="#333" stroke="#333" stroke-width="0.2" textLength="26.8" lengthAdjust="spacingAndGlyphs">07:00</text>
<text x="196.5" y="58.7" font-size="10.3" fill="#333" stroke="#333" stroke-width="0.2" textLength="25.9" lengthAdjust="spacingAndGlyphs">95.58</text>
</svg></body></html>
